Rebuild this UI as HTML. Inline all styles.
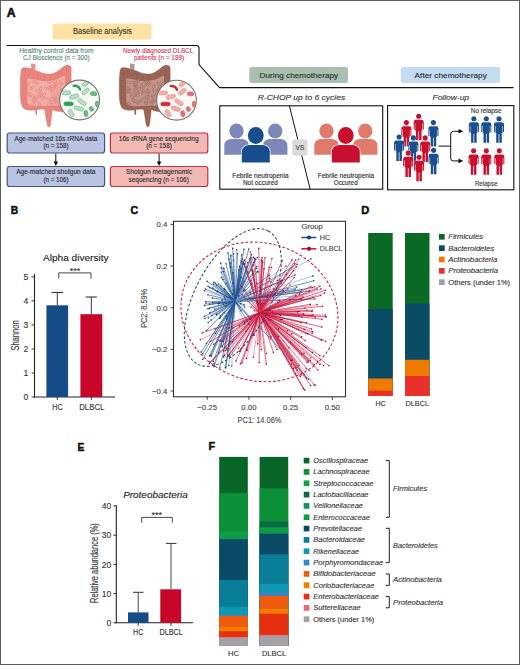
<!DOCTYPE html>
<html><head><meta charset="utf-8"><style>
html,body{margin:0;padding:0;background:#fff;}
body{width:520px;height:665px;overflow:hidden;}
svg{display:block;font-family:"Liberation Sans", sans-serif;}
</style></head><body>
<svg width="520" height="665" viewBox="0 0 520 665">
<rect x="0" y="0" width="520" height="665" fill="#fff"/>
<text x="6.80" y="16.50" font-size="12.2" fill="#111" textLength="8.80" lengthAdjust="spacingAndGlyphs" font-weight="bold" stroke="#111" stroke-width="0.55">A</text>
<rect x="52.50" y="23.50" width="99.00" height="16.00" fill="#fde2a4" rx="2" />
<text x="73.00" y="33.90" font-size="8.5" fill="#3b3322" textLength="58.80" lengthAdjust="spacingAndGlyphs" stroke="#3b3322" stroke-width="0.12">Baseline analysis</text>
<path d="M6.5,45.5 L196.5,45.5 Q199,45.5 199,48 L199,64.5 L219.5,87.6 L513.5,87.6" fill="none" stroke="#111" stroke-width="1.1" />
<rect x="249.30" y="67.00" width="98.70" height="16.00" fill="#a9bfb0" rx="2" />
<text x="259.60" y="78.30" font-size="7.8" fill="#2a2a2a" textLength="78.60" lengthAdjust="spacingAndGlyphs" stroke="#2a2a2a" stroke-width="0.12">During chemotherapy</text>
<rect x="400.80" y="67.00" width="99.20" height="16.00" fill="#c4dcf2" rx="2" />
<text x="414.60" y="78.30" font-size="7.8" fill="#2a2a2a" textLength="72.20" lengthAdjust="spacingAndGlyphs" stroke="#2a2a2a" stroke-width="0.12">After chemotherapy</text>
<text x="257.70" y="99.80" font-size="7.5" fill="#333" textLength="87.50" lengthAdjust="spacingAndGlyphs" font-style="italic" stroke="#333" stroke-width="0.12">R-CHOP up to 6 cycles</text>
<text x="432.50" y="99.90" font-size="7.5" fill="#333" textLength="36.50" lengthAdjust="spacingAndGlyphs" font-style="italic" stroke="#333" stroke-width="0.12">Follow-up</text>
<text x="19.20" y="52.60" font-size="6.5" fill="#538678" textLength="74.40" lengthAdjust="spacingAndGlyphs" stroke="#538678" stroke-width="0.12">Healthy control data from</text>
<text x="23.00" y="60.10" font-size="6.5" fill="#538678" textLength="66.60" lengthAdjust="spacingAndGlyphs" stroke="#538678" stroke-width="0.12">CJ Bioscience (n = 300)</text>
<text x="123.00" y="52.60" font-size="6.5" fill="#d23a58" textLength="70.20" lengthAdjust="spacingAndGlyphs" stroke="#d23a58" stroke-width="0.12">Newly diagnosed DLBCL</text>
<text x="134.00" y="60.10" font-size="6.5" fill="#d23a58" textLength="50.20" lengthAdjust="spacingAndGlyphs" stroke="#d23a58" stroke-width="0.12">patients (n = 189)</text>
<g transform="translate(0,0)"><path d="M20.8,74 C20.8,70 21.5,67.8 24,67.6 C27,67.4 29.5,68.5 31.6,69 L31.4,63.8 L35.2,64.2 L35,69.9 C39,71.5 44,74 50,74 C56,74 60.5,68.5 64,66.3 C67,64.4 70.5,64.6 71.2,68 L71.3,106 C70.5,111 66,112.5 60,111.8 C56,111.3 53,110 52.4,109.5 L50.6,124.5 C49.9,127.8 47.6,127.8 47.1,124.5 L44.6,109.5 C41,109 37,110 33,110.2 C28,110.8 23,109.5 22,106 C20.5,103 20.3,98 20.2,92 L20.3,80 C20.3,77 20.5,75.5 20.8,74 Z" fill="#e8837e" stroke="#d66a68" stroke-width="0.5" stroke-opacity="0.6"/><path d="M24.5,69 Q25.4,72.2 24.8,75.5 M28.5,69.5 Q29.2,73.2 28.2,77 M38,72.2 Q38.6,75.7 37.6,79.2 M44,74.6 Q44.7,77.5 43.8,80.5 M50.5,74.9 Q51.3,77.8 50.5,80.8 M56.5,74 Q57.4,76.8 56.8,79.5 M61.5,70.5 Q62.5,73.8 62,77.2 M66.5,66.8 Q67.0,71.2 66,75.5 M21,80.5 Q24.6,80.7 26.6,80.8 M21,86.5 Q24.6,86.7 26.6,86.8 M21,92.5 Q24.6,92.7 26.6,92.8 M21,98.5 Q24.6,98.7 26.6,98.8 M22,104 Q25.8,104.2 28,104.5 M65.8,80 Q69.2,80.1 71,80.2 M65.8,86 Q69.2,86.1 71,86.2 " fill="none" stroke="#d66a68" stroke-width="0.5" opacity="0.55"/><path d="M31.4,63.8 L35.2,64.2 L35,69.9 L31.6,69 Z" fill="#ec8e88"/><path d="M26.8,78 C31,77.8 36,79.8 42,80.5 C48,81 54,80 58,78.4 C61,77 63.5,75.8 65.3,75 L65.6,103 C62,106.5 56,105.8 51,106 C45,106.2 38,107 32.5,106.2 C28.5,105.6 26.8,103.5 26.8,100.5 Z" fill="#f3ada5"/><g fill="none" stroke="#e6918b" stroke-width="0.8"><ellipse cx="50.9" cy="98.9" rx="2.7" ry="1.2" transform="rotate(143 50.9 98.9)"/><ellipse cx="61.7" cy="82.2" rx="2.7" ry="1.2" transform="rotate(84 61.7 82.2)"/><ellipse cx="60.9" cy="84.2" rx="1.7" ry="1.1" transform="rotate(84 60.9 84.2)"/><ellipse cx="49.2" cy="81.8" rx="1.8" ry="1.3" transform="rotate(39 49.2 81.8)"/><ellipse cx="56.1" cy="85.3" rx="1.6" ry="1.2" transform="rotate(143 56.1 85.3)"/><ellipse cx="33.1" cy="81.5" rx="1.7" ry="0.9" transform="rotate(157 33.1 81.5)"/><ellipse cx="63.9" cy="102.0" rx="2.7" ry="1.1" transform="rotate(52 63.9 102.0)"/><ellipse cx="52.9" cy="86.3" rx="2.4" ry="1.4" transform="rotate(169 52.9 86.3)"/><ellipse cx="60.7" cy="88.5" rx="1.6" ry="0.9" transform="rotate(65 60.7 88.5)"/><ellipse cx="30.8" cy="88.6" rx="1.4" ry="1.2" transform="rotate(109 30.8 88.6)"/><ellipse cx="40.7" cy="88.8" rx="2.1" ry="1.0" transform="rotate(147 40.7 88.8)"/><ellipse cx="45.8" cy="98.1" rx="2.8" ry="0.8" transform="rotate(10 45.8 98.1)"/><ellipse cx="55.5" cy="101.4" rx="2.5" ry="1.0" transform="rotate(3 55.5 101.4)"/><ellipse cx="49.3" cy="81.7" rx="1.7" ry="1.4" transform="rotate(8 49.3 81.7)"/><ellipse cx="35.6" cy="99.3" rx="2.7" ry="1.0" transform="rotate(167 35.6 99.3)"/><ellipse cx="41.3" cy="93.8" rx="1.6" ry="1.2" transform="rotate(140 41.3 93.8)"/><ellipse cx="57.2" cy="101.7" rx="2.7" ry="0.9" transform="rotate(7 57.2 101.7)"/><ellipse cx="40.8" cy="95.9" rx="1.9" ry="1.4" transform="rotate(165 40.8 95.9)"/><ellipse cx="48.1" cy="88.8" rx="1.6" ry="0.8" transform="rotate(57 48.1 88.8)"/><ellipse cx="33.9" cy="97.7" rx="1.6" ry="0.8" transform="rotate(179 33.9 97.7)"/><ellipse cx="64.0" cy="94.0" rx="1.7" ry="1.2" transform="rotate(73 64.0 94.0)"/><ellipse cx="58.2" cy="92.2" rx="1.5" ry="1.3" transform="rotate(76 58.2 92.2)"/><ellipse cx="29.7" cy="93.1" rx="1.6" ry="1.2" transform="rotate(151 29.7 93.1)"/><ellipse cx="62.7" cy="96.3" rx="1.5" ry="1.1" transform="rotate(142 62.7 96.3)"/><ellipse cx="33.9" cy="101.4" rx="2.0" ry="1.4" transform="rotate(53 33.9 101.4)"/><ellipse cx="59.2" cy="104.4" rx="2.1" ry="1.2" transform="rotate(82 59.2 104.4)"/><ellipse cx="45.7" cy="88.3" rx="1.6" ry="1.0" transform="rotate(73 45.7 88.3)"/><ellipse cx="64.1" cy="104.1" rx="2.1" ry="1.0" transform="rotate(113 64.1 104.1)"/><ellipse cx="31.7" cy="87.9" rx="2.6" ry="1.0" transform="rotate(141 31.7 87.9)"/><ellipse cx="56.8" cy="99.7" rx="2.3" ry="1.3" transform="rotate(125 56.8 99.7)"/><ellipse cx="41.6" cy="98.1" rx="2.1" ry="1.3" transform="rotate(51 41.6 98.1)"/><ellipse cx="53.4" cy="88.4" rx="2.3" ry="1.1" transform="rotate(170 53.4 88.4)"/><ellipse cx="28.9" cy="94.4" rx="2.3" ry="1.1" transform="rotate(45 28.9 94.4)"/><ellipse cx="57.9" cy="96.7" rx="1.9" ry="1.2" transform="rotate(144 57.9 96.7)"/><ellipse cx="55.1" cy="101.0" rx="2.6" ry="1.3" transform="rotate(63 55.1 101.0)"/><ellipse cx="53.3" cy="104.4" rx="2.1" ry="1.1" transform="rotate(172 53.3 104.4)"/><ellipse cx="34.5" cy="101.2" rx="2.1" ry="1.2" transform="rotate(169 34.5 101.2)"/><ellipse cx="54.4" cy="98.7" rx="2.5" ry="1.1" transform="rotate(31 54.4 98.7)"/><ellipse cx="52.5" cy="91.4" rx="2.5" ry="1.2" transform="rotate(112 52.5 91.4)"/><ellipse cx="54.4" cy="82.1" rx="2.0" ry="1.2" transform="rotate(29 54.4 82.1)"/><ellipse cx="36.4" cy="97.6" rx="1.5" ry="1.1" transform="rotate(114 36.4 97.6)"/><ellipse cx="36.6" cy="82.8" rx="1.8" ry="0.9" transform="rotate(24 36.6 82.8)"/><ellipse cx="35.5" cy="82.3" rx="1.9" ry="1.2" transform="rotate(84 35.5 82.3)"/><ellipse cx="49.7" cy="87.1" rx="1.4" ry="1.0" transform="rotate(163 49.7 87.1)"/><ellipse cx="38.5" cy="91.1" rx="2.6" ry="1.0" transform="rotate(21 38.5 91.1)"/><ellipse cx="29.8" cy="95.9" rx="2.2" ry="1.0" transform="rotate(17 29.8 95.9)"/><ellipse cx="49.4" cy="104.0" rx="2.0" ry="1.3" transform="rotate(147 49.4 104.0)"/><ellipse cx="51.6" cy="90.2" rx="2.2" ry="1.1" transform="rotate(26 51.6 90.2)"/><ellipse cx="63.0" cy="104.2" rx="1.9" ry="1.3" transform="rotate(110 63.0 104.2)"/><ellipse cx="28.5" cy="84.0" rx="2.3" ry="0.9" transform="rotate(102 28.5 84.0)"/><ellipse cx="51.2" cy="102.4" rx="2.0" ry="0.9" transform="rotate(68 51.2 102.4)"/><ellipse cx="39.0" cy="104.4" rx="2.7" ry="1.3" transform="rotate(68 39.0 104.4)"/><ellipse cx="49.9" cy="87.6" rx="2.1" ry="1.0" transform="rotate(177 49.9 87.6)"/><ellipse cx="40.0" cy="104.6" rx="1.8" ry="1.1" transform="rotate(89 40.0 104.6)"/><ellipse cx="32.9" cy="96.1" rx="1.8" ry="1.3" transform="rotate(80 32.9 96.1)"/><ellipse cx="58.3" cy="81.8" rx="1.8" ry="1.4" transform="rotate(96 58.3 81.8)"/><ellipse cx="56.6" cy="87.3" rx="1.6" ry="1.4" transform="rotate(48 56.6 87.3)"/><ellipse cx="39.1" cy="95.8" rx="2.3" ry="1.2" transform="rotate(85 39.1 95.8)"/><ellipse cx="55.3" cy="84.3" rx="1.8" ry="1.1" transform="rotate(137 55.3 84.3)"/><ellipse cx="40.6" cy="88.5" rx="2.1" ry="1.0" transform="rotate(95 40.6 88.5)"/><ellipse cx="55.3" cy="95.4" rx="1.8" ry="1.1" transform="rotate(7 55.3 95.4)"/><ellipse cx="61.5" cy="102.4" rx="1.4" ry="1.3" transform="rotate(98 61.5 102.4)"/><ellipse cx="43.9" cy="95.0" rx="2.3" ry="1.1" transform="rotate(127 43.9 95.0)"/><ellipse cx="61.3" cy="90.6" rx="2.6" ry="0.9" transform="rotate(71 61.3 90.6)"/></g><path d="M26.8,78 C31,77.8 36,79.8 42,80.5 C48,81 54,80 58,78.4 C61,77 63.5,75.8 65.3,75 L65.6,103 C62,106.5 56,105.8 51,106 C45,106.2 38,107 32.5,106.2 C28.5,105.6 26.8,103.5 26.8,100.5 Z" fill="none" stroke="#d66a68" stroke-width="0.6" opacity="0.6"/><path d="M35.3,109.5 C35,112 35.4,114.5 36.4,115.3 C37.3,115 37.2,112 37,109.5 Z" fill="#e8837e"/></g>
<circle cx="79.6" cy="100.0" r="19.9" fill="#f8fbf6" stroke="#77736e" stroke-width="1.1"/>
<clipPath id="clip0"><circle cx="79.6" cy="100.0" r="19.299999999999997"/></clipPath>
<g clip-path="url(#clip0)"><rect x="-3.00" y="-1.85" width="6" height="3.7" rx="1.85" fill="#bcdfc5" stroke="#76b88b" stroke-width="0.7" transform="translate(85.10,84.00) rotate(-30)"/><rect x="-4.25" y="-1.85" width="8.5" height="3.7" rx="1.85" fill="#bcdfc5" stroke="#76b88b" stroke-width="0.7" transform="translate(85.50,91.50) rotate(-40)"/><rect x="-4.65" y="-1.85" width="9.3" height="3.7" rx="1.85" fill="#bcdfc5" stroke="#76b88b" stroke-width="0.7" transform="translate(66.10,92.80) rotate(0)"/><rect x="-4.65" y="-1.85" width="9.3" height="3.7" rx="1.85" fill="#bcdfc5" stroke="#76b88b" stroke-width="0.7" transform="translate(74.10,96.60) rotate(-15)"/><rect x="-3.25" y="-1.85" width="6.5" height="3.7" rx="1.85" fill="#6cbc86" stroke="#4aa86a" stroke-width="0.7" transform="translate(93.60,93.70) rotate(5)"/><rect x="-4.65" y="-1.85" width="9.3" height="3.7" rx="1.85" fill="#2c9e58" stroke="#2c9e58" stroke-width="0.7" transform="translate(68.60,103.80) rotate(0)"/><rect x="-4.65" y="-1.85" width="9.3" height="3.7" rx="1.85" fill="#bcdfc5" stroke="#76b88b" stroke-width="0.7" transform="translate(82.10,102.10) rotate(35)"/><rect x="-4.65" y="-1.85" width="9.3" height="3.7" rx="1.85" fill="#bcdfc5" stroke="#76b88b" stroke-width="0.7" transform="translate(78.80,108.50) rotate(15)"/><rect x="-4.00" y="-1.85" width="8" height="3.7" rx="1.85" fill="#bcdfc5" stroke="#76b88b" stroke-width="0.7" transform="translate(71.10,113.10) rotate(60)"/><rect x="-3.00" y="-1.85" width="6" height="3.7" rx="1.85" fill="#6cbc86" stroke="#4aa86a" stroke-width="0.7" transform="translate(85.90,113.50) rotate(80)"/><rect x="-2.40" y="-1.85" width="4.8" height="3.7" rx="1.85" fill="#6cbc86" stroke="#4aa86a" stroke-width="0.7" transform="translate(91.40,108.90) rotate(60)"/><rect x="-3.00" y="-1.85" width="6" height="3.7" rx="1.85" fill="#6cbc86" stroke="#4aa86a" stroke-width="0.7" transform="translate(97.40,104.20) rotate(80)"/><path d="M73.80,85.80 Q78.60,85.40 80.20,89.60" fill="none" stroke="#2c9e58" stroke-width="2.4" stroke-linecap="round"/></g>
<g transform="translate(99,0)"><path d="M20.8,74 C20.8,70 21.5,67.8 24,67.6 C27,67.4 29.5,68.5 31.6,69 L31.4,63.8 L35.2,64.2 L35,69.9 C39,71.5 44,74 50,74 C56,74 60.5,68.5 64,66.3 C67,64.4 70.5,64.6 71.2,68 L71.3,106 C70.5,111 66,112.5 60,111.8 C56,111.3 53,110 52.4,109.5 L50.6,124.5 C49.9,127.8 47.6,127.8 47.1,124.5 L44.6,109.5 C41,109 37,110 33,110.2 C28,110.8 23,109.5 22,106 C20.5,103 20.3,98 20.2,92 L20.3,80 C20.3,77 20.5,75.5 20.8,74 Z" fill="#9c6455" stroke="#84503f" stroke-width="0.5" stroke-opacity="0.6"/><path d="M24.5,69 Q25.4,72.2 24.8,75.5 M28.5,69.5 Q29.2,73.2 28.2,77 M38,72.2 Q38.6,75.7 37.6,79.2 M44,74.6 Q44.7,77.5 43.8,80.5 M50.5,74.9 Q51.3,77.8 50.5,80.8 M56.5,74 Q57.4,76.8 56.8,79.5 M61.5,70.5 Q62.5,73.8 62,77.2 M66.5,66.8 Q67.0,71.2 66,75.5 M21,80.5 Q24.6,80.7 26.6,80.8 M21,86.5 Q24.6,86.7 26.6,86.8 M21,92.5 Q24.6,92.7 26.6,92.8 M21,98.5 Q24.6,98.7 26.6,98.8 M22,104 Q25.8,104.2 28,104.5 M65.8,80 Q69.2,80.1 71,80.2 M65.8,86 Q69.2,86.1 71,86.2 " fill="none" stroke="#84503f" stroke-width="0.5" opacity="0.55"/><path d="M31.4,63.8 L35.2,64.2 L35,69.9 L31.6,69 Z" fill="#a89a94"/><path d="M26.8,78 C31,77.8 36,79.8 42,80.5 C48,81 54,80 58,78.4 C61,77 63.5,75.8 65.3,75 L65.6,103 C62,106.5 56,105.8 51,106 C45,106.2 38,107 32.5,106.2 C28.5,105.6 26.8,103.5 26.8,100.5 Z" fill="#c4938a"/><g fill="none" stroke="#a97a70" stroke-width="0.8"><ellipse cx="63.1" cy="102.0" rx="1.7" ry="1.0" transform="rotate(132 63.1 102.0)"/><ellipse cx="54.2" cy="100.5" rx="1.6" ry="1.3" transform="rotate(3 54.2 100.5)"/><ellipse cx="32.8" cy="96.9" rx="2.3" ry="1.3" transform="rotate(59 32.8 96.9)"/><ellipse cx="49.4" cy="90.7" rx="2.3" ry="1.2" transform="rotate(58 49.4 90.7)"/><ellipse cx="43.2" cy="92.5" rx="1.8" ry="0.9" transform="rotate(97 43.2 92.5)"/><ellipse cx="49.0" cy="83.9" rx="2.5" ry="1.3" transform="rotate(108 49.0 83.9)"/><ellipse cx="37.6" cy="91.2" rx="1.9" ry="1.4" transform="rotate(166 37.6 91.2)"/><ellipse cx="35.7" cy="101.3" rx="2.3" ry="1.3" transform="rotate(7 35.7 101.3)"/><ellipse cx="48.2" cy="96.4" rx="2.8" ry="0.9" transform="rotate(164 48.2 96.4)"/><ellipse cx="47.3" cy="82.4" rx="1.6" ry="0.9" transform="rotate(68 47.3 82.4)"/><ellipse cx="51.0" cy="83.5" rx="1.4" ry="1.3" transform="rotate(28 51.0 83.5)"/><ellipse cx="37.3" cy="83.2" rx="2.4" ry="1.2" transform="rotate(112 37.3 83.2)"/><ellipse cx="48.2" cy="94.1" rx="1.8" ry="1.3" transform="rotate(130 48.2 94.1)"/><ellipse cx="53.5" cy="101.7" rx="2.6" ry="1.1" transform="rotate(160 53.5 101.7)"/><ellipse cx="47.3" cy="98.7" rx="1.4" ry="1.4" transform="rotate(104 47.3 98.7)"/><ellipse cx="35.7" cy="92.9" rx="1.5" ry="1.1" transform="rotate(81 35.7 92.9)"/><ellipse cx="49.8" cy="100.6" rx="1.8" ry="1.1" transform="rotate(110 49.8 100.6)"/><ellipse cx="63.0" cy="96.5" rx="1.4" ry="1.2" transform="rotate(152 63.0 96.5)"/><ellipse cx="36.1" cy="85.3" rx="1.6" ry="0.9" transform="rotate(60 36.1 85.3)"/><ellipse cx="36.1" cy="86.9" rx="2.5" ry="0.8" transform="rotate(45 36.1 86.9)"/><ellipse cx="35.7" cy="82.8" rx="1.7" ry="1.1" transform="rotate(91 35.7 82.8)"/><ellipse cx="37.1" cy="86.1" rx="1.5" ry="1.3" transform="rotate(88 37.1 86.1)"/><ellipse cx="48.8" cy="90.8" rx="2.7" ry="1.1" transform="rotate(99 48.8 90.8)"/><ellipse cx="42.7" cy="86.6" rx="2.5" ry="1.2" transform="rotate(68 42.7 86.6)"/><ellipse cx="38.4" cy="102.6" rx="1.9" ry="1.3" transform="rotate(24 38.4 102.6)"/><ellipse cx="61.4" cy="92.3" rx="2.2" ry="1.1" transform="rotate(2 61.4 92.3)"/><ellipse cx="29.6" cy="89.7" rx="1.5" ry="0.9" transform="rotate(159 29.6 89.7)"/><ellipse cx="34.5" cy="100.2" rx="2.4" ry="1.2" transform="rotate(55 34.5 100.2)"/><ellipse cx="28.9" cy="91.8" rx="2.5" ry="1.1" transform="rotate(21 28.9 91.8)"/><ellipse cx="41.8" cy="100.6" rx="1.5" ry="0.9" transform="rotate(148 41.8 100.6)"/><ellipse cx="40.1" cy="88.9" rx="2.0" ry="1.4" transform="rotate(79 40.1 88.9)"/><ellipse cx="52.7" cy="104.1" rx="1.7" ry="1.1" transform="rotate(111 52.7 104.1)"/><ellipse cx="34.3" cy="95.2" rx="2.7" ry="1.0" transform="rotate(26 34.3 95.2)"/><ellipse cx="60.7" cy="86.7" rx="1.7" ry="1.3" transform="rotate(37 60.7 86.7)"/><ellipse cx="58.3" cy="99.0" rx="1.6" ry="0.9" transform="rotate(103 58.3 99.0)"/><ellipse cx="29.7" cy="103.4" rx="2.4" ry="0.8" transform="rotate(23 29.7 103.4)"/><ellipse cx="38.7" cy="95.7" rx="1.5" ry="1.3" transform="rotate(33 38.7 95.7)"/><ellipse cx="38.8" cy="81.7" rx="2.8" ry="1.1" transform="rotate(127 38.8 81.7)"/><ellipse cx="29.8" cy="91.3" rx="1.7" ry="1.1" transform="rotate(110 29.8 91.3)"/><ellipse cx="55.2" cy="97.0" rx="2.7" ry="1.1" transform="rotate(150 55.2 97.0)"/><ellipse cx="63.8" cy="84.3" rx="2.3" ry="1.4" transform="rotate(93 63.8 84.3)"/><ellipse cx="45.4" cy="91.8" rx="2.1" ry="0.8" transform="rotate(160 45.4 91.8)"/><ellipse cx="44.8" cy="87.8" rx="2.5" ry="0.8" transform="rotate(118 44.8 87.8)"/><ellipse cx="39.9" cy="102.6" rx="2.5" ry="1.0" transform="rotate(146 39.9 102.6)"/><ellipse cx="62.9" cy="101.4" rx="2.2" ry="1.2" transform="rotate(147 62.9 101.4)"/><ellipse cx="33.2" cy="82.3" rx="1.5" ry="1.1" transform="rotate(3 33.2 82.3)"/><ellipse cx="62.5" cy="95.0" rx="2.5" ry="1.4" transform="rotate(142 62.5 95.0)"/><ellipse cx="38.5" cy="93.2" rx="1.9" ry="1.2" transform="rotate(166 38.5 93.2)"/><ellipse cx="43.4" cy="85.1" rx="1.9" ry="0.8" transform="rotate(37 43.4 85.1)"/><ellipse cx="60.2" cy="89.8" rx="2.5" ry="0.8" transform="rotate(43 60.2 89.8)"/><ellipse cx="55.9" cy="92.1" rx="2.0" ry="1.4" transform="rotate(16 55.9 92.1)"/><ellipse cx="29.9" cy="88.2" rx="2.2" ry="0.9" transform="rotate(32 29.9 88.2)"/><ellipse cx="59.0" cy="90.1" rx="1.6" ry="0.9" transform="rotate(171 59.0 90.1)"/><ellipse cx="29.5" cy="82.5" rx="2.2" ry="1.1" transform="rotate(33 29.5 82.5)"/><ellipse cx="54.6" cy="87.0" rx="2.8" ry="1.0" transform="rotate(108 54.6 87.0)"/><ellipse cx="37.0" cy="85.9" rx="2.3" ry="1.1" transform="rotate(174 37.0 85.9)"/><ellipse cx="46.3" cy="83.4" rx="2.4" ry="1.0" transform="rotate(41 46.3 83.4)"/><ellipse cx="47.0" cy="102.7" rx="2.1" ry="1.3" transform="rotate(33 47.0 102.7)"/><ellipse cx="55.3" cy="100.9" rx="2.2" ry="0.9" transform="rotate(164 55.3 100.9)"/><ellipse cx="46.8" cy="103.3" rx="1.8" ry="0.9" transform="rotate(36 46.8 103.3)"/><ellipse cx="60.1" cy="83.8" rx="2.3" ry="1.2" transform="rotate(27 60.1 83.8)"/><ellipse cx="43.7" cy="99.1" rx="1.9" ry="0.8" transform="rotate(127 43.7 99.1)"/><ellipse cx="53.4" cy="96.1" rx="2.4" ry="0.8" transform="rotate(173 53.4 96.1)"/><ellipse cx="35.5" cy="88.7" rx="1.8" ry="0.9" transform="rotate(131 35.5 88.7)"/></g><path d="M26.8,78 C31,77.8 36,79.8 42,80.5 C48,81 54,80 58,78.4 C61,77 63.5,75.8 65.3,75 L65.6,103 C62,106.5 56,105.8 51,106 C45,106.2 38,107 32.5,106.2 C28.5,105.6 26.8,103.5 26.8,100.5 Z" fill="none" stroke="#84503f" stroke-width="0.6" opacity="0.6"/><path d="M35.3,109.5 C35,112 35.4,114.5 36.4,115.3 C37.3,115 37.2,112 37,109.5 Z" fill="#9c6455"/></g>
<circle cx="176.5" cy="100.2" r="19.9" fill="#fdf9f4" stroke="#77736e" stroke-width="1.1"/>
<clipPath id="clip99"><circle cx="176.5" cy="100.2" r="19.299999999999997"/></clipPath>
<g clip-path="url(#clip99)"><rect x="-3.00" y="-1.85" width="6" height="3.7" rx="1.85" fill="#f4b0ac" stroke="#e68888" stroke-width="0.7" transform="translate(182.00,84.20) rotate(-30)"/><rect x="-4.25" y="-1.85" width="8.5" height="3.7" rx="1.85" fill="#f4b0ac" stroke="#e68888" stroke-width="0.7" transform="translate(182.40,91.70) rotate(-40)"/><rect x="-4.65" y="-1.85" width="9.3" height="3.7" rx="1.85" fill="#f4b0ac" stroke="#e68888" stroke-width="0.7" transform="translate(163.00,93.00) rotate(0)"/><rect x="-4.65" y="-1.85" width="9.3" height="3.7" rx="1.85" fill="#f4b0ac" stroke="#e68888" stroke-width="0.7" transform="translate(171.00,96.80) rotate(-15)"/><rect x="-3.25" y="-1.85" width="6.5" height="3.7" rx="1.85" fill="#e67474" stroke="#d85a5e" stroke-width="0.7" transform="translate(190.50,93.90) rotate(5)"/><rect x="-4.65" y="-1.85" width="9.3" height="3.7" rx="1.85" fill="#cc2a3c" stroke="#cc2a3c" stroke-width="0.7" transform="translate(165.50,104.00) rotate(0)"/><rect x="-4.65" y="-1.85" width="9.3" height="3.7" rx="1.85" fill="#f4b0ac" stroke="#e68888" stroke-width="0.7" transform="translate(179.00,102.30) rotate(35)"/><rect x="-4.65" y="-1.85" width="9.3" height="3.7" rx="1.85" fill="#f4b0ac" stroke="#e68888" stroke-width="0.7" transform="translate(175.70,108.70) rotate(15)"/><rect x="-4.00" y="-1.85" width="8" height="3.7" rx="1.85" fill="#f4b0ac" stroke="#e68888" stroke-width="0.7" transform="translate(168.00,113.30) rotate(60)"/><rect x="-3.00" y="-1.85" width="6" height="3.7" rx="1.85" fill="#e67474" stroke="#d85a5e" stroke-width="0.7" transform="translate(182.80,113.70) rotate(80)"/><rect x="-2.40" y="-1.85" width="4.8" height="3.7" rx="1.85" fill="#e67474" stroke="#d85a5e" stroke-width="0.7" transform="translate(188.30,109.10) rotate(60)"/><rect x="-3.00" y="-1.85" width="6" height="3.7" rx="1.85" fill="#e67474" stroke="#d85a5e" stroke-width="0.7" transform="translate(194.30,104.40) rotate(80)"/><path d="M170.70,86.00 Q175.50,85.60 177.10,89.80" fill="none" stroke="#cc2a3c" stroke-width="2.4" stroke-linecap="round"/></g>
<rect x="7.20" y="133.00" width="97.40" height="20.00" fill="#b9c4e3" stroke="#3f5583" stroke-width="1.2" rx="2.5" />
<text x="14.40" y="140.70" font-size="6.6" fill="#2a2a2a" textLength="83.00" lengthAdjust="spacingAndGlyphs" stroke="#2a2a2a" stroke-width="0.12">Age-matched 16s rRNA data</text>
<text x="43.40" y="148.40" font-size="6.6" fill="#2a2a2a" textLength="25.20" lengthAdjust="spacingAndGlyphs" stroke="#2a2a2a" stroke-width="0.12">(n = 158)</text>
<rect x="7.20" y="166.50" width="97.40" height="20.00" fill="#b9c4e3" stroke="#3f5583" stroke-width="1.2" rx="2.5" />
<text x="16.20" y="174.30" font-size="6.6" fill="#2a2a2a" textLength="79.20" lengthAdjust="spacingAndGlyphs" stroke="#2a2a2a" stroke-width="0.12">Age-matched shotgun data</text>
<text x="43.40" y="182.20" font-size="6.6" fill="#2a2a2a" textLength="25.20" lengthAdjust="spacingAndGlyphs" stroke="#2a2a2a" stroke-width="0.12">(n = 106)</text>
<rect x="110.40" y="133.00" width="97.40" height="20.00" fill="#f2b9b4" stroke="#bf2f48" stroke-width="1.2" rx="2.5" />
<text x="118.80" y="140.70" font-size="6.6" fill="#2a2a2a" textLength="79.80" lengthAdjust="spacingAndGlyphs" stroke="#2a2a2a" stroke-width="0.12">16s rRNA gene sequencing</text>
<text x="146.20" y="148.40" font-size="6.6" fill="#2a2a2a" textLength="25.60" lengthAdjust="spacingAndGlyphs" stroke="#2a2a2a" stroke-width="0.12">(n = 158)</text>
<rect x="110.40" y="166.50" width="97.40" height="20.00" fill="#f2b9b4" stroke="#bf2f48" stroke-width="1.2" rx="2.5" />
<text x="126.00" y="174.20" font-size="6.6" fill="#2a2a2a" textLength="66.00" lengthAdjust="spacingAndGlyphs" stroke="#2a2a2a" stroke-width="0.12">Shotgun metagenomic</text>
<text x="128.60" y="182.10" font-size="6.6" fill="#2a2a2a" textLength="60.20" lengthAdjust="spacingAndGlyphs" stroke="#2a2a2a" stroke-width="0.12">sequencing (n = 106)</text>
<line x1="55.80" y1="153.60" x2="55.80" y2="162.50" stroke="#111" stroke-width="1" />
<path d="M53.5,161.6 L58.099999999999994,161.6 L55.8,166 Z" fill="#111" />
<line x1="159.10" y1="153.60" x2="159.10" y2="162.50" stroke="#111" stroke-width="1" />
<path d="M156.79999999999998,161.6 L161.4,161.6 L159.1,166 Z" fill="#111" />
<rect x="219.80" y="105.80" width="162.90" height="83.40" fill="none" stroke="#111" stroke-width="1.1" />
<line x1="289.40" y1="105.80" x2="310.20" y2="189.20" stroke="#111" stroke-width="1" />
<rect x="292.30" y="139.20" width="15.20" height="16.40" fill="#dadada" rx="3" />
<text x="299.90" y="150.00" font-size="6.6" fill="#444" text-anchor="middle" stroke="#444" stroke-width="0.12">VS</text>
<path d="M224.30,154.8 L224.30,145.5 C224.30,140.5 228.30,139.0 232.30,139.0 L240.70,139.0 C244.70,139.0 248.70,140.5 248.70,145.5 L248.70,154.8 Z" fill="#7d88b8"/>
<ellipse cx="236.50" cy="131.0" rx="7.2" ry="7.5" fill="#7d88b8" stroke="#fff" stroke-width="1.1" paint-order="stroke"/>
<path d="M263.00,154.8 L263.00,145.5 C263.00,140.5 267.00,139.0 271.00,139.0 L279.40,139.0 C283.40,139.0 287.40,140.5 287.40,145.5 L287.40,154.8 Z" fill="#7d88b8"/>
<ellipse cx="275.20" cy="131.0" rx="7.2" ry="7.5" fill="#7d88b8" stroke="#fff" stroke-width="1.1" paint-order="stroke"/>
<path d="M241.80,162.4 L241.80,152 C241.80,146.5 246.30,144.9 250.80,144.9 L260.80,144.9 C265.30,144.9 269.80,146.5 269.80,152 L269.80,162.4 Z" fill="#194e8e" stroke="#fff" stroke-width="1.3" paint-order="stroke"/>
<ellipse cx="255.80" cy="135.5" rx="7.9" ry="8.4" fill="#194e8e" stroke="#fff" stroke-width="1.3" paint-order="stroke"/>
<path d="M314.30,154.8 L314.30,145.5 C314.30,140.5 318.30,139.0 322.30,139.0 L330.70,139.0 C334.70,139.0 338.70,140.5 338.70,145.5 L338.70,154.8 Z" fill="#e07a6b"/>
<ellipse cx="326.50" cy="131.0" rx="7.2" ry="7.5" fill="#e07a6b" stroke="#fff" stroke-width="1.1" paint-order="stroke"/>
<path d="M353.00,154.8 L353.00,145.5 C353.00,140.5 357.00,139.0 361.00,139.0 L369.40,139.0 C373.40,139.0 377.40,140.5 377.40,145.5 L377.40,154.8 Z" fill="#e07a6b"/>
<ellipse cx="365.20" cy="131.0" rx="7.2" ry="7.5" fill="#e07a6b" stroke="#fff" stroke-width="1.1" paint-order="stroke"/>
<path d="M331.80,162.4 L331.80,152 C331.80,146.5 336.30,144.9 340.80,144.9 L350.80,144.9 C355.30,144.9 359.80,146.5 359.80,152 L359.80,162.4 Z" fill="#c8102e" stroke="#fff" stroke-width="1.3" paint-order="stroke"/>
<ellipse cx="345.80" cy="135.5" rx="7.9" ry="8.4" fill="#c8102e" stroke="#fff" stroke-width="1.3" paint-order="stroke"/>
<text x="232.20" y="177.80" font-size="6.6" fill="#2a2a2a" textLength="56.40" lengthAdjust="spacingAndGlyphs" stroke="#2a2a2a" stroke-width="0.12">Febrile neutropenia</text>
<text x="242.90" y="185.20" font-size="6.6" fill="#2a2a2a" textLength="35.00" lengthAdjust="spacingAndGlyphs" stroke="#2a2a2a" stroke-width="0.12">Not occured</text>
<text x="317.70" y="177.80" font-size="6.6" fill="#2a2a2a" textLength="56.40" lengthAdjust="spacingAndGlyphs" stroke="#2a2a2a" stroke-width="0.12">Febrile neutropenia</text>
<text x="333.70" y="185.20" font-size="6.6" fill="#2a2a2a" textLength="24.00" lengthAdjust="spacingAndGlyphs" stroke="#2a2a2a" stroke-width="0.12">Occured</text>
<rect x="387.60" y="105.60" width="126.20" height="84.20" fill="none" stroke="#111" stroke-width="1.1" />
<text x="470.80" y="113.20" font-size="6.6" fill="#333" textLength="30.70" lengthAdjust="spacingAndGlyphs" stroke="#333" stroke-width="0.12">No relapse</text>
<text x="474.90" y="185.50" font-size="6.6" fill="#333" textLength="22.70" lengthAdjust="spacingAndGlyphs" stroke="#333" stroke-width="0.12">Relapse</text>
<g transform="translate(418.70,116.20) scale(1.0)"><path d="M-5.05,12.8 L-5.05,6 Q-5.05,3.6 -2.8,3.6 L2.8,3.6 Q5.05,3.6 5.05,6 L5.05,12.8 Q5.05,13.5 4.5,13.5 Q4.0,13.5 4.0,12.8 L4.0,7.2 L3.5,7.2 L3.5,14.2 L2.8,14.2 L2.8,24 L0.35,24 L0.35,15.2 L-0.35,15.2 L-0.35,24 L-2.8,24 L-2.8,14.2 L-3.5,14.2 L-3.5,7.2 L-4.0,7.2 L-4.0,12.8 Q-4.0,13.5 -4.5,13.5 Q-5.05,13.5 -5.05,12.8 Z" fill="#c8102e" stroke="#fff" stroke-width="0.7" paint-order="stroke" stroke-linejoin="round"/><circle cx="0" cy="0" r="2.55" fill="#c8102e" stroke="#fff" stroke-width="0.7" paint-order="stroke"/></g>
<g transform="translate(406.40,122.60) scale(1.0)"><path d="M-5.05,12.8 L-5.05,6 Q-5.05,3.6 -2.8,3.6 L2.8,3.6 Q5.05,3.6 5.05,6 L5.05,12.8 Q5.05,13.5 4.5,13.5 Q4.0,13.5 4.0,12.8 L4.0,7.2 L3.5,7.2 L3.5,14.2 L2.8,14.2 L2.8,24 L0.35,24 L0.35,15.2 L-0.35,15.2 L-0.35,24 L-2.8,24 L-2.8,14.2 L-3.5,14.2 L-3.5,7.2 L-4.0,7.2 L-4.0,12.8 Q-4.0,13.5 -4.5,13.5 Q-5.05,13.5 -5.05,12.8 Z" fill="#c8102e" stroke="#fff" stroke-width="0.7" paint-order="stroke" stroke-linejoin="round"/><circle cx="0" cy="0" r="2.55" fill="#c8102e" stroke="#fff" stroke-width="0.7" paint-order="stroke"/></g>
<g transform="translate(433.40,122.60) scale(1.0)"><path d="M-5.05,12.8 L-5.05,6 Q-5.05,3.6 -2.8,3.6 L2.8,3.6 Q5.05,3.6 5.05,6 L5.05,12.8 Q5.05,13.5 4.5,13.5 Q4.0,13.5 4.0,12.8 L4.0,7.2 L3.5,7.2 L3.5,14.2 L2.8,14.2 L2.8,24 L0.35,24 L0.35,15.2 L-0.35,15.2 L-0.35,24 L-2.8,24 L-2.8,14.2 L-3.5,14.2 L-3.5,7.2 L-4.0,7.2 L-4.0,12.8 Q-4.0,13.5 -4.5,13.5 Q-5.05,13.5 -5.05,12.8 Z" fill="#1a4f8f" stroke="#fff" stroke-width="0.7" paint-order="stroke" stroke-linejoin="round"/><circle cx="0" cy="0" r="2.55" fill="#1a4f8f" stroke="#fff" stroke-width="0.7" paint-order="stroke"/></g>
<g transform="translate(399.10,137.00) scale(1.0)"><path d="M-5.05,12.8 L-5.05,6 Q-5.05,3.6 -2.8,3.6 L2.8,3.6 Q5.05,3.6 5.05,6 L5.05,12.8 Q5.05,13.5 4.5,13.5 Q4.0,13.5 4.0,12.8 L4.0,7.2 L3.5,7.2 L3.5,14.2 L2.8,14.2 L2.8,24 L0.35,24 L0.35,15.2 L-0.35,15.2 L-0.35,24 L-2.8,24 L-2.8,14.2 L-3.5,14.2 L-3.5,7.2 L-4.0,7.2 L-4.0,12.8 Q-4.0,13.5 -4.5,13.5 Q-5.05,13.5 -5.05,12.8 Z" fill="#1a4f8f" stroke="#fff" stroke-width="0.7" paint-order="stroke" stroke-linejoin="round"/><circle cx="0" cy="0" r="2.55" fill="#1a4f8f" stroke="#fff" stroke-width="0.7" paint-order="stroke"/></g>
<g transform="translate(413.40,137.90) scale(1.0)"><path d="M-5.05,12.8 L-5.05,6 Q-5.05,3.6 -2.8,3.6 L2.8,3.6 Q5.05,3.6 5.05,6 L5.05,12.8 Q5.05,13.5 4.5,13.5 Q4.0,13.5 4.0,12.8 L4.0,7.2 L3.5,7.2 L3.5,14.2 L2.8,14.2 L2.8,24 L0.35,24 L0.35,15.2 L-0.35,15.2 L-0.35,24 L-2.8,24 L-2.8,14.2 L-3.5,14.2 L-3.5,7.2 L-4.0,7.2 L-4.0,12.8 Q-4.0,13.5 -4.5,13.5 Q-5.05,13.5 -5.05,12.8 Z" fill="#1a4f8f" stroke="#fff" stroke-width="0.7" paint-order="stroke" stroke-linejoin="round"/><circle cx="0" cy="0" r="2.55" fill="#1a4f8f" stroke="#fff" stroke-width="0.7" paint-order="stroke"/></g>
<g transform="translate(425.20,137.90) scale(1.0)"><path d="M-5.05,12.8 L-5.05,6 Q-5.05,3.6 -2.8,3.6 L2.8,3.6 Q5.05,3.6 5.05,6 L5.05,12.8 Q5.05,13.5 4.5,13.5 Q4.0,13.5 4.0,12.8 L4.0,7.2 L3.5,7.2 L3.5,14.2 L2.8,14.2 L2.8,24 L0.35,24 L0.35,15.2 L-0.35,15.2 L-0.35,24 L-2.8,24 L-2.8,14.2 L-3.5,14.2 L-3.5,7.2 L-4.0,7.2 L-4.0,12.8 Q-4.0,13.5 -4.5,13.5 Q-5.05,13.5 -5.05,12.8 Z" fill="#c8102e" stroke="#fff" stroke-width="0.7" paint-order="stroke" stroke-linejoin="round"/><circle cx="0" cy="0" r="2.55" fill="#c8102e" stroke="#fff" stroke-width="0.7" paint-order="stroke"/></g>
<g transform="translate(433.60,150.20) scale(1.0)"><path d="M-5.05,12.8 L-5.05,6 Q-5.05,3.6 -2.8,3.6 L2.8,3.6 Q5.05,3.6 5.05,6 L5.05,12.8 Q5.05,13.5 4.5,13.5 Q4.0,13.5 4.0,12.8 L4.0,7.2 L3.5,7.2 L3.5,14.2 L2.8,14.2 L2.8,24 L0.35,24 L0.35,15.2 L-0.35,15.2 L-0.35,24 L-2.8,24 L-2.8,14.2 L-3.5,14.2 L-3.5,7.2 L-4.0,7.2 L-4.0,12.8 Q-4.0,13.5 -4.5,13.5 Q-5.05,13.5 -5.05,12.8 Z" fill="#1a4f8f" stroke="#fff" stroke-width="0.7" paint-order="stroke" stroke-linejoin="round"/><circle cx="0" cy="0" r="2.55" fill="#1a4f8f" stroke="#fff" stroke-width="0.7" paint-order="stroke"/></g>
<g transform="translate(408.20,153.10) scale(1.0)"><path d="M-5.05,12.8 L-5.05,6 Q-5.05,3.6 -2.8,3.6 L2.8,3.6 Q5.05,3.6 5.05,6 L5.05,12.8 Q5.05,13.5 4.5,13.5 Q4.0,13.5 4.0,12.8 L4.0,7.2 L3.5,7.2 L3.5,14.2 L2.8,14.2 L2.8,24 L0.35,24 L0.35,15.2 L-0.35,15.2 L-0.35,24 L-2.8,24 L-2.8,14.2 L-3.5,14.2 L-3.5,7.2 L-4.0,7.2 L-4.0,12.8 Q-4.0,13.5 -4.5,13.5 Q-5.05,13.5 -5.05,12.8 Z" fill="#c8102e" stroke="#fff" stroke-width="0.7" paint-order="stroke" stroke-linejoin="round"/><circle cx="0" cy="0" r="2.55" fill="#c8102e" stroke="#fff" stroke-width="0.7" paint-order="stroke"/></g>
<g transform="translate(419.10,157.20) scale(1.0)"><path d="M-5.05,12.8 L-5.05,6 Q-5.05,3.6 -2.8,3.6 L2.8,3.6 Q5.05,3.6 5.05,6 L5.05,12.8 Q5.05,13.5 4.5,13.5 Q4.0,13.5 4.0,12.8 L4.0,7.2 L3.5,7.2 L3.5,14.2 L2.8,14.2 L2.8,24 L0.35,24 L0.35,15.2 L-0.35,15.2 L-0.35,24 L-2.8,24 L-2.8,14.2 L-3.5,14.2 L-3.5,7.2 L-4.0,7.2 L-4.0,12.8 Q-4.0,13.5 -4.5,13.5 Q-5.05,13.5 -5.05,12.8 Z" fill="#c8102e" stroke="#fff" stroke-width="0.7" paint-order="stroke" stroke-linejoin="round"/><circle cx="0" cy="0" r="2.55" fill="#c8102e" stroke="#fff" stroke-width="0.7" paint-order="stroke"/></g>
<g transform="translate(473.90,118.70) scale(1.0)"><path d="M-5.05,12.8 L-5.05,6 Q-5.05,3.6 -2.8,3.6 L2.8,3.6 Q5.05,3.6 5.05,6 L5.05,12.8 Q5.05,13.5 4.5,13.5 Q4.0,13.5 4.0,12.8 L4.0,7.2 L3.5,7.2 L3.5,14.2 L2.8,14.2 L2.8,24 L0.35,24 L0.35,15.2 L-0.35,15.2 L-0.35,24 L-2.8,24 L-2.8,14.2 L-3.5,14.2 L-3.5,7.2 L-4.0,7.2 L-4.0,12.8 Q-4.0,13.5 -4.5,13.5 Q-5.05,13.5 -5.05,12.8 Z" fill="#1a4f8f" stroke="#fff" stroke-width="0.7" paint-order="stroke" stroke-linejoin="round"/><circle cx="0" cy="0" r="2.55" fill="#1a4f8f" stroke="#fff" stroke-width="0.7" paint-order="stroke"/></g>
<g transform="translate(486.30,118.70) scale(1.0)"><path d="M-5.05,12.8 L-5.05,6 Q-5.05,3.6 -2.8,3.6 L2.8,3.6 Q5.05,3.6 5.05,6 L5.05,12.8 Q5.05,13.5 4.5,13.5 Q4.0,13.5 4.0,12.8 L4.0,7.2 L3.5,7.2 L3.5,14.2 L2.8,14.2 L2.8,24 L0.35,24 L0.35,15.2 L-0.35,15.2 L-0.35,24 L-2.8,24 L-2.8,14.2 L-3.5,14.2 L-3.5,7.2 L-4.0,7.2 L-4.0,12.8 Q-4.0,13.5 -4.5,13.5 Q-5.05,13.5 -5.05,12.8 Z" fill="#1a4f8f" stroke="#fff" stroke-width="0.7" paint-order="stroke" stroke-linejoin="round"/><circle cx="0" cy="0" r="2.55" fill="#1a4f8f" stroke="#fff" stroke-width="0.7" paint-order="stroke"/></g>
<g transform="translate(499.00,118.70) scale(1.0)"><path d="M-5.05,12.8 L-5.05,6 Q-5.05,3.6 -2.8,3.6 L2.8,3.6 Q5.05,3.6 5.05,6 L5.05,12.8 Q5.05,13.5 4.5,13.5 Q4.0,13.5 4.0,12.8 L4.0,7.2 L3.5,7.2 L3.5,14.2 L2.8,14.2 L2.8,24 L0.35,24 L0.35,15.2 L-0.35,15.2 L-0.35,24 L-2.8,24 L-2.8,14.2 L-3.5,14.2 L-3.5,7.2 L-4.0,7.2 L-4.0,12.8 Q-4.0,13.5 -4.5,13.5 Q-5.05,13.5 -5.05,12.8 Z" fill="#1a4f8f" stroke="#fff" stroke-width="0.7" paint-order="stroke" stroke-linejoin="round"/><circle cx="0" cy="0" r="2.55" fill="#1a4f8f" stroke="#fff" stroke-width="0.7" paint-order="stroke"/></g>
<g transform="translate(473.60,150.80) scale(1.0)"><path d="M-5.05,12.8 L-5.05,6 Q-5.05,3.6 -2.8,3.6 L2.8,3.6 Q5.05,3.6 5.05,6 L5.05,12.8 Q5.05,13.5 4.5,13.5 Q4.0,13.5 4.0,12.8 L4.0,7.2 L3.5,7.2 L3.5,14.2 L2.8,14.2 L2.8,24 L0.35,24 L0.35,15.2 L-0.35,15.2 L-0.35,24 L-2.8,24 L-2.8,14.2 L-3.5,14.2 L-3.5,7.2 L-4.0,7.2 L-4.0,12.8 Q-4.0,13.5 -4.5,13.5 Q-5.05,13.5 -5.05,12.8 Z" fill="#c8102e" stroke="#fff" stroke-width="0.7" paint-order="stroke" stroke-linejoin="round"/><circle cx="0" cy="0" r="2.55" fill="#c8102e" stroke="#fff" stroke-width="0.7" paint-order="stroke"/></g>
<g transform="translate(486.30,150.80) scale(1.0)"><path d="M-5.05,12.8 L-5.05,6 Q-5.05,3.6 -2.8,3.6 L2.8,3.6 Q5.05,3.6 5.05,6 L5.05,12.8 Q5.05,13.5 4.5,13.5 Q4.0,13.5 4.0,12.8 L4.0,7.2 L3.5,7.2 L3.5,14.2 L2.8,14.2 L2.8,24 L0.35,24 L0.35,15.2 L-0.35,15.2 L-0.35,24 L-2.8,24 L-2.8,14.2 L-3.5,14.2 L-3.5,7.2 L-4.0,7.2 L-4.0,12.8 Q-4.0,13.5 -4.5,13.5 Q-5.05,13.5 -5.05,12.8 Z" fill="#c8102e" stroke="#fff" stroke-width="0.7" paint-order="stroke" stroke-linejoin="round"/><circle cx="0" cy="0" r="2.55" fill="#c8102e" stroke="#fff" stroke-width="0.7" paint-order="stroke"/></g>
<g transform="translate(499.30,150.80) scale(1.0)"><path d="M-5.05,12.8 L-5.05,6 Q-5.05,3.6 -2.8,3.6 L2.8,3.6 Q5.05,3.6 5.05,6 L5.05,12.8 Q5.05,13.5 4.5,13.5 Q4.0,13.5 4.0,12.8 L4.0,7.2 L3.5,7.2 L3.5,14.2 L2.8,14.2 L2.8,24 L0.35,24 L0.35,15.2 L-0.35,15.2 L-0.35,24 L-2.8,24 L-2.8,14.2 L-3.5,14.2 L-3.5,7.2 L-4.0,7.2 L-4.0,12.8 Q-4.0,13.5 -4.5,13.5 Q-5.05,13.5 -5.05,12.8 Z" fill="#c8102e" stroke="#fff" stroke-width="0.7" paint-order="stroke" stroke-linejoin="round"/><circle cx="0" cy="0" r="2.55" fill="#c8102e" stroke="#fff" stroke-width="0.7" paint-order="stroke"/></g>
<path d="M438.6,146.1 L450.7,146.1" fill="none" stroke="#111" stroke-width="1" />
<path d="M459,131.3 L453.5,131.3 Q450.7,131.3 450.7,134 L450.7,158.2 Q450.7,160.9 453.5,160.9 L459,160.9" fill="none" stroke="#111" stroke-width="1" />
<path d="M458.5,129 L463.3,131.3 L458.5,133.6 Z" fill="#111" />
<path d="M458.5,158.6 L463.3,160.9 L458.5,163.2 Z" fill="#111" />
<text x="10.80" y="214.10" font-size="11.4" fill="#111" textLength="7.40" lengthAdjust="spacingAndGlyphs" font-weight="bold" stroke="#111" stroke-width="0.55">B</text>
<text x="43.00" y="260.90" font-size="9" fill="#222" textLength="65.50" lengthAdjust="spacingAndGlyphs" stroke="#222" stroke-width="0.12">Alpha diversity</text>
<line x1="34.50" y1="274.10" x2="34.50" y2="397.50" stroke="#222" stroke-width="1.1" />
<line x1="33.90" y1="397.00" x2="115.20" y2="397.00" stroke="#222" stroke-width="1.1" />
<line x1="31.50" y1="397.00" x2="34.50" y2="397.00" stroke="#222" stroke-width="0.9" />
<text x="28.30" y="400.10" font-size="8.6" fill="#333" text-anchor="end" stroke="#333" stroke-width="0.12">0</text>
<line x1="31.50" y1="372.98" x2="34.50" y2="372.98" stroke="#222" stroke-width="0.9" />
<text x="28.30" y="376.08" font-size="8.6" fill="#333" text-anchor="end" stroke="#333" stroke-width="0.12">1</text>
<line x1="31.50" y1="348.96" x2="34.50" y2="348.96" stroke="#222" stroke-width="0.9" />
<text x="28.30" y="352.06" font-size="8.6" fill="#333" text-anchor="end" stroke="#333" stroke-width="0.12">2</text>
<line x1="31.50" y1="324.94" x2="34.50" y2="324.94" stroke="#222" stroke-width="0.9" />
<text x="28.30" y="328.04" font-size="8.6" fill="#333" text-anchor="end" stroke="#333" stroke-width="0.12">3</text>
<line x1="31.50" y1="300.92" x2="34.50" y2="300.92" stroke="#222" stroke-width="0.9" />
<text x="28.30" y="304.02" font-size="8.6" fill="#333" text-anchor="end" stroke="#333" stroke-width="0.12">4</text>
<line x1="31.50" y1="276.90" x2="34.50" y2="276.90" stroke="#222" stroke-width="0.9" />
<text x="28.30" y="280.00" font-size="8.6" fill="#333" text-anchor="end" stroke="#333" stroke-width="0.12">5</text>
<line x1="57.30" y1="397.00" x2="57.30" y2="400.00" stroke="#222" stroke-width="0.9" />
<line x1="91.30" y1="397.00" x2="91.30" y2="400.00" stroke="#222" stroke-width="0.9" />
<rect x="46.40" y="305.30" width="21.70" height="91.70" fill="#154b86" />
<rect x="80.40" y="314.20" width="21.90" height="82.80" fill="#c8062a" />
<line x1="57.30" y1="305.30" x2="57.30" y2="292.40" stroke="#222" stroke-width="0.9" />
<line x1="51.50" y1="292.40" x2="63.10" y2="292.40" stroke="#222" stroke-width="1" />
<line x1="91.30" y1="314.20" x2="91.30" y2="297.00" stroke="#222" stroke-width="0.9" />
<line x1="85.70" y1="297.00" x2="96.90" y2="297.00" stroke="#222" stroke-width="1" />
<path d="M58.8,278.7 L58.8,272.9 L91,272.9 L91,278.7" fill="none" stroke="#333" stroke-width="0.9" />
<text x="75.10" y="273.80" font-size="9" fill="#333" text-anchor="middle" stroke="#333" stroke-width="0.12">***</text>
<text x="52.20" y="409.80" font-size="8.6" fill="#333" textLength="10.40" lengthAdjust="spacingAndGlyphs" stroke="#333" stroke-width="0.12">HC</text>
<text x="79.20" y="409.80" font-size="8.6" fill="#333" textLength="25.20" lengthAdjust="spacingAndGlyphs" stroke="#333" stroke-width="0.12">DLBCL</text>
<text x="19.20" y="350.60" font-size="10.5" fill="#333" textLength="30.20" lengthAdjust="spacingAndGlyphs" transform="rotate(-90 19.20 350.60)" stroke="#333" stroke-width="0.12">Shannon</text>
<text x="130.50" y="214.40" font-size="11.4" fill="#111" textLength="7.60" lengthAdjust="spacingAndGlyphs" font-weight="bold" stroke="#111" stroke-width="0.55">C</text>
<g stroke-width="0.7" fill="none"><line x1="235.2" y1="301.2" x2="220.3" y2="317.6" stroke="#1d4f8c" stroke-opacity="0.9"/><line x1="235.2" y1="301.2" x2="216.3" y2="314.1" stroke="#7a9ccc" stroke-opacity="0.9"/><line x1="259.7" y1="312.5" x2="215.0" y2="329.0" stroke="#e46a84" stroke-opacity="0.9"/><line x1="259.7" y1="312.5" x2="320.9" y2="288.9" stroke="#e46a84" stroke-opacity="0.9"/><line x1="235.2" y1="301.2" x2="256.9" y2="266.2" stroke="#1d4f8c" stroke-opacity="0.9"/><line x1="259.7" y1="312.5" x2="279.2" y2="300.4" stroke="#c8103a" stroke-opacity="0.9"/><line x1="235.2" y1="301.2" x2="312.4" y2="287.5" stroke="#1d4f8c" stroke-opacity="0.9"/><line x1="235.2" y1="301.2" x2="313.8" y2="280.8" stroke="#1d4f8c" stroke-opacity="0.9"/><line x1="235.2" y1="301.2" x2="273.5" y2="295.5" stroke="#1d4f8c" stroke-opacity="0.9"/><line x1="235.2" y1="301.2" x2="237.5" y2="253.5" stroke="#1d4f8c" stroke-opacity="0.9"/><line x1="235.2" y1="301.2" x2="240.8" y2="303.7" stroke="#1d4f8c" stroke-opacity="0.9"/><line x1="235.2" y1="301.2" x2="220.0" y2="341.1" stroke="#7a9ccc" stroke-opacity="0.9"/><line x1="259.7" y1="312.5" x2="281.2" y2="283.1" stroke="#c8103a" stroke-opacity="0.9"/><line x1="235.2" y1="301.2" x2="206.5" y2="330.5" stroke="#1d4f8c" stroke-opacity="0.9"/><line x1="259.7" y1="312.5" x2="226.6" y2="338.9" stroke="#e46a84" stroke-opacity="0.9"/><line x1="259.7" y1="312.5" x2="294.6" y2="263.6" stroke="#c8103a" stroke-opacity="0.9"/><line x1="259.7" y1="312.5" x2="262.2" y2="260.9" stroke="#e46a84" stroke-opacity="0.9"/><line x1="259.7" y1="312.5" x2="310.3" y2="360.6" stroke="#c8103a" stroke-opacity="0.9"/><line x1="235.2" y1="301.2" x2="223.3" y2="341.4" stroke="#1d4f8c" stroke-opacity="0.9"/><line x1="235.2" y1="301.2" x2="204.5" y2="305.4" stroke="#1d4f8c" stroke-opacity="0.9"/><line x1="235.2" y1="301.2" x2="204.9" y2="318.5" stroke="#7a9ccc" stroke-opacity="0.9"/><line x1="259.7" y1="312.5" x2="230.6" y2="341.6" stroke="#e46a84" stroke-opacity="0.9"/><line x1="259.7" y1="312.5" x2="293.6" y2="368.4" stroke="#c8103a" stroke-opacity="0.9"/><line x1="259.7" y1="312.5" x2="320.6" y2="295.5" stroke="#c8103a" stroke-opacity="0.9"/><line x1="259.7" y1="312.5" x2="240.0" y2="351.3" stroke="#e46a84" stroke-opacity="0.9"/><line x1="259.7" y1="312.5" x2="259.1" y2="362.8" stroke="#c8103a" stroke-opacity="0.9"/><line x1="235.2" y1="301.2" x2="225.6" y2="306.3" stroke="#1d4f8c" stroke-opacity="0.9"/><line x1="259.7" y1="312.5" x2="242.1" y2="294.7" stroke="#c8103a" stroke-opacity="0.9"/><line x1="235.2" y1="301.2" x2="233.7" y2="253.8" stroke="#7a9ccc" stroke-opacity="0.9"/><line x1="235.2" y1="301.2" x2="239.5" y2="266.3" stroke="#1d4f8c" stroke-opacity="0.9"/><line x1="235.2" y1="301.2" x2="223.5" y2="351.0" stroke="#1d4f8c" stroke-opacity="0.9"/><line x1="235.2" y1="301.2" x2="230.2" y2="263.1" stroke="#1d4f8c" stroke-opacity="0.9"/><line x1="235.2" y1="301.2" x2="219.7" y2="368.0" stroke="#1d4f8c" stroke-opacity="0.9"/><line x1="235.2" y1="301.2" x2="243.5" y2="290.8" stroke="#7a9ccc" stroke-opacity="0.9"/><line x1="259.7" y1="312.5" x2="308.2" y2="360.8" stroke="#c8103a" stroke-opacity="0.9"/><line x1="259.7" y1="312.5" x2="250.3" y2="252.0" stroke="#e46a84" stroke-opacity="0.9"/><line x1="235.2" y1="301.2" x2="231.8" y2="366.0" stroke="#7a9ccc" stroke-opacity="0.9"/><line x1="259.7" y1="312.5" x2="263.7" y2="303.5" stroke="#e46a84" stroke-opacity="0.9"/><line x1="235.2" y1="301.2" x2="223.6" y2="357.2" stroke="#7a9ccc" stroke-opacity="0.9"/><line x1="235.2" y1="301.2" x2="225.8" y2="367.7" stroke="#1d4f8c" stroke-opacity="0.9"/><line x1="259.7" y1="312.5" x2="312.0" y2="311.6" stroke="#c8103a" stroke-opacity="0.9"/><line x1="259.7" y1="312.5" x2="246.6" y2="349.6" stroke="#c8103a" stroke-opacity="0.9"/><line x1="235.2" y1="301.2" x2="209.6" y2="355.9" stroke="#1d4f8c" stroke-opacity="0.9"/><line x1="235.2" y1="301.2" x2="228.9" y2="259.1" stroke="#1d4f8c" stroke-opacity="0.9"/><line x1="259.7" y1="312.5" x2="282.1" y2="260.9" stroke="#c8103a" stroke-opacity="0.9"/><line x1="259.7" y1="312.5" x2="210.0" y2="362.1" stroke="#c8103a" stroke-opacity="0.9"/><line x1="235.2" y1="301.2" x2="215.4" y2="333.5" stroke="#7a9ccc" stroke-opacity="0.9"/><line x1="259.7" y1="312.5" x2="271.5" y2="267.3" stroke="#e46a84" stroke-opacity="0.9"/><line x1="259.7" y1="312.5" x2="324.6" y2="292.9" stroke="#e46a84" stroke-opacity="0.9"/><line x1="259.7" y1="312.5" x2="225.5" y2="350.6" stroke="#c8103a" stroke-opacity="0.9"/><line x1="259.7" y1="312.5" x2="278.7" y2="328.9" stroke="#e46a84" stroke-opacity="0.9"/><line x1="235.2" y1="301.2" x2="220.7" y2="285.7" stroke="#1d4f8c" stroke-opacity="0.9"/><line x1="259.7" y1="312.5" x2="287.9" y2="288.7" stroke="#c8103a" stroke-opacity="0.9"/><line x1="235.2" y1="301.2" x2="216.6" y2="285.3" stroke="#7a9ccc" stroke-opacity="0.9"/><line x1="235.2" y1="301.2" x2="224.0" y2="312.7" stroke="#7a9ccc" stroke-opacity="0.9"/><line x1="235.2" y1="301.2" x2="211.0" y2="320.0" stroke="#7a9ccc" stroke-opacity="0.9"/><line x1="259.7" y1="312.5" x2="251.0" y2="307.1" stroke="#c8103a" stroke-opacity="0.9"/><line x1="235.2" y1="301.2" x2="308.6" y2="379.2" stroke="#1d4f8c" stroke-opacity="0.9"/><line x1="259.7" y1="312.5" x2="229.8" y2="356.9" stroke="#c8103a" stroke-opacity="0.9"/><line x1="235.2" y1="301.2" x2="209.7" y2="312.9" stroke="#1d4f8c" stroke-opacity="0.9"/><line x1="259.7" y1="312.5" x2="311.5" y2="329.1" stroke="#c8103a" stroke-opacity="0.9"/><line x1="235.2" y1="301.2" x2="216.6" y2="314.7" stroke="#1d4f8c" stroke-opacity="0.9"/><line x1="259.7" y1="312.5" x2="260.2" y2="287.7" stroke="#c8103a" stroke-opacity="0.9"/><line x1="235.2" y1="301.2" x2="205.5" y2="289.1" stroke="#1d4f8c" stroke-opacity="0.9"/><line x1="235.2" y1="301.2" x2="236.7" y2="249.7" stroke="#7a9ccc" stroke-opacity="0.9"/><line x1="235.2" y1="301.2" x2="238.8" y2="295.9" stroke="#7a9ccc" stroke-opacity="0.9"/><line x1="235.2" y1="301.2" x2="213.8" y2="282.4" stroke="#1d4f8c" stroke-opacity="0.9"/><line x1="235.2" y1="301.2" x2="228.8" y2="365.6" stroke="#7a9ccc" stroke-opacity="0.9"/><line x1="259.7" y1="312.5" x2="254.0" y2="335.4" stroke="#c8103a" stroke-opacity="0.9"/><line x1="235.2" y1="301.2" x2="232.7" y2="294.1" stroke="#1d4f8c" stroke-opacity="0.9"/><line x1="235.2" y1="301.2" x2="206.4" y2="343.5" stroke="#7a9ccc" stroke-opacity="0.9"/><line x1="259.7" y1="312.5" x2="317.0" y2="304.6" stroke="#e46a84" stroke-opacity="0.9"/><line x1="235.2" y1="301.2" x2="207.9" y2="308.8" stroke="#1d4f8c" stroke-opacity="0.9"/><line x1="235.2" y1="301.2" x2="240.9" y2="301.6" stroke="#7a9ccc" stroke-opacity="0.9"/><line x1="259.7" y1="312.5" x2="280.8" y2="319.5" stroke="#e46a84" stroke-opacity="0.9"/><line x1="235.2" y1="301.2" x2="244.1" y2="304.9" stroke="#1d4f8c" stroke-opacity="0.9"/><line x1="235.2" y1="301.2" x2="253.2" y2="265.0" stroke="#1d4f8c" stroke-opacity="0.9"/><line x1="259.7" y1="312.5" x2="242.5" y2="259.1" stroke="#c8103a" stroke-opacity="0.9"/><line x1="259.7" y1="312.5" x2="296.1" y2="367.9" stroke="#e46a84" stroke-opacity="0.9"/><line x1="235.2" y1="301.2" x2="309.5" y2="290.9" stroke="#1d4f8c" stroke-opacity="0.9"/><line x1="235.2" y1="301.2" x2="218.5" y2="284.1" stroke="#1d4f8c" stroke-opacity="0.9"/><line x1="259.7" y1="312.5" x2="280.0" y2="301.4" stroke="#e46a84" stroke-opacity="0.9"/><line x1="235.2" y1="301.2" x2="244.6" y2="307.1" stroke="#7a9ccc" stroke-opacity="0.9"/><line x1="235.2" y1="301.2" x2="215.4" y2="283.4" stroke="#1d4f8c" stroke-opacity="0.9"/><line x1="259.7" y1="312.5" x2="278.4" y2="336.6" stroke="#c8103a" stroke-opacity="0.9"/><line x1="235.2" y1="301.2" x2="226.2" y2="316.8" stroke="#1d4f8c" stroke-opacity="0.9"/><line x1="259.7" y1="312.5" x2="298.9" y2="316.1" stroke="#e46a84" stroke-opacity="0.9"/><line x1="259.7" y1="312.5" x2="262.7" y2="262.4" stroke="#c8103a" stroke-opacity="0.9"/><line x1="235.2" y1="301.2" x2="230.6" y2="256.0" stroke="#7a9ccc" stroke-opacity="0.9"/><line x1="235.2" y1="301.2" x2="217.5" y2="291.2" stroke="#1d4f8c" stroke-opacity="0.9"/><line x1="259.7" y1="312.5" x2="252.9" y2="335.1" stroke="#c8103a" stroke-opacity="0.9"/><line x1="259.7" y1="312.5" x2="307.8" y2="333.9" stroke="#c8103a" stroke-opacity="0.9"/><line x1="235.2" y1="301.2" x2="251.0" y2="257.6" stroke="#1d4f8c" stroke-opacity="0.9"/><line x1="235.2" y1="301.2" x2="214.1" y2="366.6" stroke="#1d4f8c" stroke-opacity="0.9"/><line x1="235.2" y1="301.2" x2="226.5" y2="318.9" stroke="#1d4f8c" stroke-opacity="0.9"/><line x1="259.7" y1="312.5" x2="270.3" y2="291.9" stroke="#e46a84" stroke-opacity="0.9"/><line x1="235.2" y1="301.2" x2="290.0" y2="300.0" stroke="#7a9ccc" stroke-opacity="0.9"/><line x1="235.2" y1="301.2" x2="208.2" y2="322.6" stroke="#7a9ccc" stroke-opacity="0.9"/><line x1="259.7" y1="312.5" x2="278.2" y2="302.5" stroke="#c8103a" stroke-opacity="0.9"/><line x1="235.2" y1="301.2" x2="209.5" y2="287.6" stroke="#1d4f8c" stroke-opacity="0.9"/><line x1="259.7" y1="312.5" x2="304.3" y2="329.5" stroke="#e46a84" stroke-opacity="0.9"/><line x1="259.7" y1="312.5" x2="301.7" y2="336.9" stroke="#c8103a" stroke-opacity="0.9"/><line x1="259.7" y1="312.5" x2="222.0" y2="345.8" stroke="#c8103a" stroke-opacity="0.9"/><line x1="259.7" y1="312.5" x2="258.7" y2="303.9" stroke="#c8103a" stroke-opacity="0.9"/><line x1="235.2" y1="301.2" x2="222.3" y2="346.9" stroke="#1d4f8c" stroke-opacity="0.9"/><line x1="259.7" y1="312.5" x2="253.3" y2="357.2" stroke="#e46a84" stroke-opacity="0.9"/><line x1="235.2" y1="301.2" x2="220.7" y2="263.4" stroke="#7a9ccc" stroke-opacity="0.9"/><line x1="235.2" y1="301.2" x2="243.6" y2="263.4" stroke="#7a9ccc" stroke-opacity="0.9"/><line x1="259.7" y1="312.5" x2="292.0" y2="259.7" stroke="#c8103a" stroke-opacity="0.9"/><line x1="235.2" y1="301.2" x2="223.7" y2="268.5" stroke="#7a9ccc" stroke-opacity="0.9"/><line x1="235.2" y1="301.2" x2="252.5" y2="298.9" stroke="#1d4f8c" stroke-opacity="0.9"/><line x1="259.7" y1="312.5" x2="317.9" y2="370.0" stroke="#c8103a" stroke-opacity="0.9"/><line x1="259.7" y1="312.5" x2="300.3" y2="376.5" stroke="#c8103a" stroke-opacity="0.9"/><line x1="259.7" y1="312.5" x2="304.1" y2="353.3" stroke="#e46a84" stroke-opacity="0.9"/><line x1="259.7" y1="312.5" x2="272.5" y2="312.1" stroke="#c8103a" stroke-opacity="0.9"/><line x1="235.2" y1="301.2" x2="297.2" y2="264.2" stroke="#1d4f8c" stroke-opacity="0.9"/><line x1="235.2" y1="301.2" x2="250.2" y2="292.4" stroke="#1d4f8c" stroke-opacity="0.9"/><line x1="259.7" y1="312.5" x2="292.1" y2="360.4" stroke="#c8103a" stroke-opacity="0.9"/><line x1="259.7" y1="312.5" x2="315.4" y2="316.9" stroke="#c8103a" stroke-opacity="0.9"/><line x1="235.2" y1="301.2" x2="218.3" y2="303.8" stroke="#1d4f8c" stroke-opacity="0.9"/><line x1="259.7" y1="312.5" x2="242.0" y2="363.1" stroke="#c8103a" stroke-opacity="0.9"/><line x1="235.2" y1="301.2" x2="205.7" y2="301.8" stroke="#1d4f8c" stroke-opacity="0.9"/><line x1="235.2" y1="301.2" x2="232.7" y2="248.4" stroke="#1d4f8c" stroke-opacity="0.9"/><line x1="235.2" y1="301.2" x2="314.9" y2="299.0" stroke="#1d4f8c" stroke-opacity="0.9"/><line x1="259.7" y1="312.5" x2="323.6" y2="365.6" stroke="#e46a84" stroke-opacity="0.9"/><line x1="235.2" y1="301.2" x2="212.0" y2="315.6" stroke="#1d4f8c" stroke-opacity="0.9"/><line x1="259.7" y1="312.5" x2="271.9" y2="258.6" stroke="#e46a84" stroke-opacity="0.9"/><line x1="259.7" y1="312.5" x2="261.2" y2="349.8" stroke="#c8103a" stroke-opacity="0.9"/><line x1="235.2" y1="301.2" x2="249.1" y2="324.2" stroke="#1d4f8c" stroke-opacity="0.9"/><line x1="235.2" y1="301.2" x2="223.8" y2="268.2" stroke="#7a9ccc" stroke-opacity="0.9"/><line x1="259.7" y1="312.5" x2="314.1" y2="364.6" stroke="#c8103a" stroke-opacity="0.9"/><line x1="259.7" y1="312.5" x2="264.0" y2="268.7" stroke="#e46a84" stroke-opacity="0.9"/><line x1="259.7" y1="312.5" x2="317.1" y2="289.0" stroke="#c8103a" stroke-opacity="0.9"/><line x1="259.7" y1="312.5" x2="262.1" y2="303.4" stroke="#c8103a" stroke-opacity="0.9"/><line x1="259.7" y1="312.5" x2="290.1" y2="285.0" stroke="#e46a84" stroke-opacity="0.9"/><line x1="259.7" y1="312.5" x2="304.9" y2="390.1" stroke="#c8103a" stroke-opacity="0.9"/><line x1="259.7" y1="312.5" x2="281.1" y2="280.4" stroke="#c8103a" stroke-opacity="0.9"/><line x1="259.7" y1="312.5" x2="313.3" y2="297.3" stroke="#c8103a" stroke-opacity="0.9"/><line x1="235.2" y1="301.2" x2="241.2" y2="268.2" stroke="#1d4f8c" stroke-opacity="0.9"/><line x1="259.7" y1="312.5" x2="261.2" y2="260.1" stroke="#c8103a" stroke-opacity="0.9"/><line x1="259.7" y1="312.5" x2="252.4" y2="270.9" stroke="#c8103a" stroke-opacity="0.9"/><line x1="259.7" y1="312.5" x2="250.6" y2="294.3" stroke="#e46a84" stroke-opacity="0.9"/><line x1="259.7" y1="312.5" x2="287.6" y2="330.7" stroke="#e46a84" stroke-opacity="0.9"/><line x1="235.2" y1="301.2" x2="229.0" y2="355.0" stroke="#7a9ccc" stroke-opacity="0.9"/><line x1="235.2" y1="301.2" x2="233.5" y2="260.3" stroke="#7a9ccc" stroke-opacity="0.9"/><line x1="235.2" y1="301.2" x2="225.4" y2="367.8" stroke="#1d4f8c" stroke-opacity="0.9"/><line x1="235.2" y1="301.2" x2="244.7" y2="323.8" stroke="#7a9ccc" stroke-opacity="0.9"/><line x1="259.7" y1="312.5" x2="247.1" y2="350.4" stroke="#e46a84" stroke-opacity="0.9"/><line x1="259.7" y1="312.5" x2="312.2" y2="310.2" stroke="#c8103a" stroke-opacity="0.9"/><line x1="259.7" y1="312.5" x2="291.9" y2="333.9" stroke="#e46a84" stroke-opacity="0.9"/><line x1="259.7" y1="312.5" x2="247.8" y2="272.0" stroke="#e46a84" stroke-opacity="0.9"/><line x1="235.2" y1="301.2" x2="244.2" y2="281.3" stroke="#1d4f8c" stroke-opacity="0.9"/><line x1="259.7" y1="312.5" x2="257.7" y2="343.9" stroke="#c8103a" stroke-opacity="0.9"/><line x1="259.7" y1="312.5" x2="200.4" y2="339.6" stroke="#e46a84" stroke-opacity="0.9"/><line x1="259.7" y1="312.5" x2="297.6" y2="311.9" stroke="#e46a84" stroke-opacity="0.9"/><line x1="235.2" y1="301.2" x2="223.4" y2="304.1" stroke="#1d4f8c" stroke-opacity="0.9"/><line x1="235.2" y1="301.2" x2="211.3" y2="356.3" stroke="#1d4f8c" stroke-opacity="0.9"/><line x1="259.7" y1="312.5" x2="271.0" y2="336.8" stroke="#c8103a" stroke-opacity="0.9"/><line x1="259.7" y1="312.5" x2="226.4" y2="348.4" stroke="#c8103a" stroke-opacity="0.9"/><line x1="259.7" y1="312.5" x2="313.0" y2="315.0" stroke="#e46a84" stroke-opacity="0.9"/><line x1="259.7" y1="312.5" x2="301.1" y2="322.7" stroke="#c8103a" stroke-opacity="0.9"/><line x1="259.7" y1="312.5" x2="297.2" y2="370.0" stroke="#c8103a" stroke-opacity="0.9"/><line x1="259.7" y1="312.5" x2="227.8" y2="356.5" stroke="#c8103a" stroke-opacity="0.9"/><line x1="259.7" y1="312.5" x2="322.0" y2="319.2" stroke="#c8103a" stroke-opacity="0.9"/><line x1="259.7" y1="312.5" x2="308.1" y2="362.1" stroke="#c8103a" stroke-opacity="0.9"/><line x1="259.7" y1="312.5" x2="256.8" y2="283.3" stroke="#e46a84" stroke-opacity="0.9"/><line x1="259.7" y1="312.5" x2="270.3" y2="310.5" stroke="#c8103a" stroke-opacity="0.9"/><line x1="259.7" y1="312.5" x2="322.0" y2="339.9" stroke="#c8103a" stroke-opacity="0.9"/><line x1="259.7" y1="312.5" x2="228.1" y2="356.2" stroke="#c8103a" stroke-opacity="0.9"/><line x1="235.2" y1="301.2" x2="269.0" y2="275.4" stroke="#1d4f8c" stroke-opacity="0.9"/><line x1="259.7" y1="312.5" x2="265.0" y2="257.7" stroke="#c8103a" stroke-opacity="0.9"/><line x1="235.2" y1="301.2" x2="213.3" y2="361.5" stroke="#1d4f8c" stroke-opacity="0.9"/><line x1="235.2" y1="301.2" x2="214.1" y2="363.9" stroke="#7a9ccc" stroke-opacity="0.9"/><line x1="259.7" y1="312.5" x2="246.5" y2="358.4" stroke="#e46a84" stroke-opacity="0.9"/><line x1="259.7" y1="312.5" x2="277.0" y2="349.5" stroke="#c8103a" stroke-opacity="0.9"/><line x1="259.7" y1="312.5" x2="224.6" y2="355.3" stroke="#e46a84" stroke-opacity="0.9"/><line x1="259.7" y1="312.5" x2="303.4" y2="389.0" stroke="#c8103a" stroke-opacity="0.9"/><line x1="259.7" y1="312.5" x2="299.5" y2="294.1" stroke="#e46a84" stroke-opacity="0.9"/><line x1="235.2" y1="301.2" x2="283.2" y2="290.6" stroke="#1d4f8c" stroke-opacity="0.9"/><line x1="235.2" y1="301.2" x2="314.0" y2="385.0" stroke="#7a9ccc" stroke-opacity="0.9"/><line x1="235.2" y1="301.2" x2="257.2" y2="301.9" stroke="#7a9ccc" stroke-opacity="0.9"/><line x1="259.7" y1="312.5" x2="306.4" y2="368.6" stroke="#e46a84" stroke-opacity="0.9"/><line x1="235.2" y1="301.2" x2="301.7" y2="289.8" stroke="#1d4f8c" stroke-opacity="0.9"/><line x1="235.2" y1="301.2" x2="228.0" y2="253.0" stroke="#1d4f8c" stroke-opacity="0.9"/><line x1="259.7" y1="312.5" x2="286.3" y2="274.6" stroke="#e46a84" stroke-opacity="0.9"/><line x1="259.7" y1="312.5" x2="312.6" y2="331.9" stroke="#c8103a" stroke-opacity="0.9"/><line x1="259.7" y1="312.5" x2="254.4" y2="258.4" stroke="#c8103a" stroke-opacity="0.9"/><line x1="259.7" y1="312.5" x2="291.4" y2="364.3" stroke="#e46a84" stroke-opacity="0.9"/><line x1="259.7" y1="312.5" x2="267.5" y2="297.5" stroke="#c8103a" stroke-opacity="0.9"/><line x1="259.7" y1="312.5" x2="270.8" y2="319.9" stroke="#e46a84" stroke-opacity="0.9"/><line x1="235.2" y1="301.2" x2="255.7" y2="259.2" stroke="#1d4f8c" stroke-opacity="0.9"/><line x1="259.7" y1="312.5" x2="289.0" y2="348.0" stroke="#c8103a" stroke-opacity="0.9"/><line x1="259.7" y1="312.5" x2="319.9" y2="364.4" stroke="#e46a84" stroke-opacity="0.9"/><line x1="259.7" y1="312.5" x2="273.4" y2="352.4" stroke="#c8103a" stroke-opacity="0.9"/><line x1="259.7" y1="312.5" x2="314.4" y2="286.7" stroke="#e46a84" stroke-opacity="0.9"/><line x1="235.2" y1="301.2" x2="217.1" y2="291.7" stroke="#7a9ccc" stroke-opacity="0.9"/><line x1="235.2" y1="301.2" x2="204.4" y2="316.4" stroke="#1d4f8c" stroke-opacity="0.9"/><line x1="235.2" y1="301.2" x2="218.6" y2="352.4" stroke="#1d4f8c" stroke-opacity="0.9"/><line x1="235.2" y1="301.2" x2="232.9" y2="283.1" stroke="#7a9ccc" stroke-opacity="0.9"/><line x1="259.7" y1="312.5" x2="232.6" y2="341.6" stroke="#e46a84" stroke-opacity="0.9"/><line x1="259.7" y1="312.5" x2="326.0" y2="317.0" stroke="#e46a84" stroke-opacity="0.9"/><line x1="235.2" y1="301.2" x2="301.0" y2="291.8" stroke="#1d4f8c" stroke-opacity="0.9"/><line x1="235.2" y1="301.2" x2="247.6" y2="262.8" stroke="#7a9ccc" stroke-opacity="0.9"/><line x1="259.7" y1="312.5" x2="296.3" y2="266.7" stroke="#c8103a" stroke-opacity="0.9"/><line x1="259.7" y1="312.5" x2="312.2" y2="333.2" stroke="#e46a84" stroke-opacity="0.9"/><line x1="235.2" y1="301.2" x2="224.7" y2="289.4" stroke="#1d4f8c" stroke-opacity="0.9"/><line x1="235.2" y1="301.2" x2="253.4" y2="257.3" stroke="#1d4f8c" stroke-opacity="0.9"/><line x1="259.7" y1="312.5" x2="245.9" y2="331.3" stroke="#c8103a" stroke-opacity="0.9"/><line x1="259.7" y1="312.5" x2="301.2" y2="298.9" stroke="#c8103a" stroke-opacity="0.9"/><line x1="235.2" y1="301.2" x2="295.0" y2="275.0" stroke="#1d4f8c" stroke-opacity="0.9"/><line x1="259.7" y1="312.5" x2="270.6" y2="338.6" stroke="#c8103a" stroke-opacity="0.9"/><line x1="235.2" y1="301.2" x2="202.7" y2="359.5" stroke="#1d4f8c" stroke-opacity="0.9"/><line x1="259.7" y1="312.5" x2="253.2" y2="273.4" stroke="#c8103a" stroke-opacity="0.9"/><line x1="259.7" y1="312.5" x2="244.5" y2="321.8" stroke="#c8103a" stroke-opacity="0.9"/><line x1="259.7" y1="312.5" x2="310.8" y2="358.0" stroke="#e46a84" stroke-opacity="0.9"/><line x1="259.7" y1="312.5" x2="243.9" y2="297.3" stroke="#c8103a" stroke-opacity="0.9"/><line x1="259.7" y1="312.5" x2="321.1" y2="339.9" stroke="#e46a84" stroke-opacity="0.9"/><line x1="235.2" y1="301.2" x2="220.2" y2="316.0" stroke="#1d4f8c" stroke-opacity="0.9"/><line x1="235.2" y1="301.2" x2="257.5" y2="271.2" stroke="#1d4f8c" stroke-opacity="0.9"/><line x1="259.7" y1="312.5" x2="244.5" y2="260.1" stroke="#e46a84" stroke-opacity="0.9"/><line x1="235.2" y1="301.2" x2="252.2" y2="283.8" stroke="#1d4f8c" stroke-opacity="0.9"/><line x1="259.7" y1="312.5" x2="258.8" y2="248.4" stroke="#c8103a" stroke-opacity="0.9"/><line x1="259.7" y1="312.5" x2="319.9" y2="355.6" stroke="#c8103a" stroke-opacity="0.9"/><line x1="235.2" y1="301.2" x2="255.3" y2="259.3" stroke="#1d4f8c" stroke-opacity="0.9"/><line x1="259.7" y1="312.5" x2="210.3" y2="341.5" stroke="#c8103a" stroke-opacity="0.9"/><line x1="259.7" y1="312.5" x2="306.4" y2="322.8" stroke="#c8103a" stroke-opacity="0.9"/><line x1="235.2" y1="301.2" x2="226.2" y2="283.2" stroke="#1d4f8c" stroke-opacity="0.9"/><line x1="235.2" y1="301.2" x2="227.6" y2="350.6" stroke="#1d4f8c" stroke-opacity="0.9"/><line x1="259.7" y1="312.5" x2="202.0" y2="333.0" stroke="#c8103a" stroke-opacity="0.9"/><line x1="259.7" y1="312.5" x2="301.7" y2="354.4" stroke="#c8103a" stroke-opacity="0.9"/><line x1="259.7" y1="312.5" x2="298.8" y2="259.3" stroke="#e46a84" stroke-opacity="0.9"/><line x1="235.2" y1="301.2" x2="213.3" y2="284.2" stroke="#1d4f8c" stroke-opacity="0.9"/><line x1="259.7" y1="312.5" x2="240.4" y2="363.8" stroke="#c8103a" stroke-opacity="0.9"/><line x1="259.7" y1="312.5" x2="213.7" y2="344.2" stroke="#c8103a" stroke-opacity="0.9"/><line x1="235.2" y1="301.2" x2="221.2" y2="267.9" stroke="#1d4f8c" stroke-opacity="0.9"/><line x1="235.2" y1="301.2" x2="219.2" y2="303.4" stroke="#7a9ccc" stroke-opacity="0.9"/><line x1="235.2" y1="301.2" x2="256.7" y2="268.3" stroke="#7a9ccc" stroke-opacity="0.9"/><line x1="259.7" y1="312.5" x2="322.4" y2="306.3" stroke="#c8103a" stroke-opacity="0.9"/><line x1="235.2" y1="301.2" x2="251.4" y2="254.5" stroke="#1d4f8c" stroke-opacity="0.9"/><line x1="259.7" y1="312.5" x2="277.3" y2="280.4" stroke="#e46a84" stroke-opacity="0.9"/><line x1="235.2" y1="301.2" x2="221.5" y2="277.4" stroke="#1d4f8c" stroke-opacity="0.9"/><line x1="259.7" y1="312.5" x2="315.3" y2="385.3" stroke="#e46a84" stroke-opacity="0.9"/><line x1="259.7" y1="312.5" x2="302.1" y2="317.1" stroke="#c8103a" stroke-opacity="0.9"/><line x1="235.2" y1="301.2" x2="241.0" y2="310.8" stroke="#1d4f8c" stroke-opacity="0.9"/><line x1="259.7" y1="312.5" x2="244.4" y2="264.1" stroke="#c8103a" stroke-opacity="0.9"/><line x1="259.7" y1="312.5" x2="308.9" y2="370.5" stroke="#e46a84" stroke-opacity="0.9"/><line x1="259.7" y1="312.5" x2="290.6" y2="342.6" stroke="#e46a84" stroke-opacity="0.9"/><line x1="235.2" y1="301.2" x2="246.9" y2="267.0" stroke="#1d4f8c" stroke-opacity="0.9"/><line x1="259.7" y1="312.5" x2="290.9" y2="360.3" stroke="#e46a84" stroke-opacity="0.9"/><line x1="259.7" y1="312.5" x2="209.3" y2="363.7" stroke="#c8103a" stroke-opacity="0.9"/><line x1="235.2" y1="301.2" x2="208.3" y2="318.0" stroke="#7a9ccc" stroke-opacity="0.9"/><line x1="235.2" y1="301.2" x2="230.7" y2="267.4" stroke="#7a9ccc" stroke-opacity="0.9"/><line x1="259.7" y1="312.5" x2="310.2" y2="304.4" stroke="#c8103a" stroke-opacity="0.9"/><line x1="235.2" y1="301.2" x2="241.1" y2="277.4" stroke="#1d4f8c" stroke-opacity="0.9"/><line x1="235.2" y1="301.2" x2="282.3" y2="280.6" stroke="#1d4f8c" stroke-opacity="0.9"/><line x1="259.7" y1="312.5" x2="326.0" y2="316.5" stroke="#c8103a" stroke-opacity="0.9"/><line x1="235.2" y1="301.2" x2="230.8" y2="255.3" stroke="#1d4f8c" stroke-opacity="0.9"/><line x1="259.7" y1="312.5" x2="232.4" y2="328.1" stroke="#c8103a" stroke-opacity="0.9"/><line x1="235.2" y1="301.2" x2="206.0" y2="303.3" stroke="#7a9ccc" stroke-opacity="0.9"/><line x1="259.7" y1="312.5" x2="269.8" y2="278.4" stroke="#c8103a" stroke-opacity="0.9"/><line x1="259.7" y1="312.5" x2="299.0" y2="365.6" stroke="#c8103a" stroke-opacity="0.9"/><line x1="235.2" y1="301.2" x2="286.0" y2="266.0" stroke="#7a9ccc" stroke-opacity="0.9"/><line x1="235.2" y1="301.2" x2="209.3" y2="304.1" stroke="#1d4f8c" stroke-opacity="0.9"/><line x1="259.7" y1="312.5" x2="266.3" y2="364.1" stroke="#c8103a" stroke-opacity="0.9"/><line x1="235.2" y1="301.2" x2="238.9" y2="269.9" stroke="#1d4f8c" stroke-opacity="0.9"/><line x1="259.7" y1="312.5" x2="268.6" y2="319.8" stroke="#e46a84" stroke-opacity="0.9"/><line x1="259.7" y1="312.5" x2="252.0" y2="269.9" stroke="#c8103a" stroke-opacity="0.9"/><line x1="235.2" y1="301.2" x2="248.8" y2="249.0" stroke="#1d4f8c" stroke-opacity="0.9"/><line x1="259.7" y1="312.5" x2="280.5" y2="315.4" stroke="#c8103a" stroke-opacity="0.9"/><line x1="235.2" y1="301.2" x2="250.5" y2="319.3" stroke="#1d4f8c" stroke-opacity="0.9"/><line x1="235.2" y1="301.2" x2="257.4" y2="257.5" stroke="#7a9ccc" stroke-opacity="0.9"/><line x1="259.7" y1="312.5" x2="223.9" y2="356.1" stroke="#e46a84" stroke-opacity="0.9"/><line x1="235.2" y1="301.2" x2="209.2" y2="308.2" stroke="#1d4f8c" stroke-opacity="0.9"/><line x1="235.2" y1="301.2" x2="202.6" y2="354.0" stroke="#1d4f8c" stroke-opacity="0.9"/><line x1="259.7" y1="312.5" x2="266.4" y2="353.5" stroke="#e46a84" stroke-opacity="0.9"/><line x1="259.7" y1="312.5" x2="238.7" y2="348.3" stroke="#e46a84" stroke-opacity="0.9"/><line x1="259.7" y1="312.5" x2="304.2" y2="374.2" stroke="#e46a84" stroke-opacity="0.9"/><line x1="259.7" y1="312.5" x2="228.9" y2="327.9" stroke="#c8103a" stroke-opacity="0.9"/><line x1="259.7" y1="312.5" x2="221.3" y2="341.0" stroke="#c8103a" stroke-opacity="0.9"/><line x1="259.7" y1="312.5" x2="295.7" y2="260.0" stroke="#c8103a" stroke-opacity="0.9"/><line x1="235.2" y1="301.2" x2="295.2" y2="289.0" stroke="#1d4f8c" stroke-opacity="0.9"/><line x1="259.7" y1="312.5" x2="305.0" y2="308.3" stroke="#e46a84" stroke-opacity="0.9"/><line x1="235.2" y1="301.2" x2="226.0" y2="263.8" stroke="#1d4f8c" stroke-opacity="0.9"/><line x1="259.7" y1="312.5" x2="305.7" y2="333.1" stroke="#c8103a" stroke-opacity="0.9"/><line x1="235.2" y1="301.2" x2="233.1" y2="272.7" stroke="#1d4f8c" stroke-opacity="0.9"/><line x1="259.7" y1="312.5" x2="303.6" y2="313.9" stroke="#c8103a" stroke-opacity="0.9"/><line x1="259.7" y1="312.5" x2="235.9" y2="361.1" stroke="#c8103a" stroke-opacity="0.9"/><line x1="259.7" y1="312.5" x2="249.9" y2="258.9" stroke="#c8103a" stroke-opacity="0.9"/><line x1="259.7" y1="312.5" x2="254.1" y2="310.7" stroke="#c8103a" stroke-opacity="0.9"/><line x1="259.7" y1="312.5" x2="293.6" y2="270.6" stroke="#c8103a" stroke-opacity="0.9"/><line x1="259.7" y1="312.5" x2="268.2" y2="295.2" stroke="#c8103a" stroke-opacity="0.9"/><line x1="235.2" y1="301.2" x2="223.7" y2="271.5" stroke="#7a9ccc" stroke-opacity="0.9"/><line x1="259.7" y1="312.5" x2="325.6" y2="341.3" stroke="#e46a84" stroke-opacity="0.9"/><line x1="235.2" y1="301.2" x2="310.9" y2="258.9" stroke="#7a9ccc" stroke-opacity="0.9"/><line x1="259.7" y1="312.5" x2="275.6" y2="316.9" stroke="#c8103a" stroke-opacity="0.9"/><line x1="235.2" y1="301.2" x2="207.9" y2="294.8" stroke="#1d4f8c" stroke-opacity="0.9"/><line x1="235.2" y1="301.2" x2="257.9" y2="271.9" stroke="#7a9ccc" stroke-opacity="0.9"/><line x1="235.2" y1="301.2" x2="241.6" y2="261.4" stroke="#7a9ccc" stroke-opacity="0.9"/><line x1="259.7" y1="312.5" x2="239.2" y2="325.9" stroke="#c8103a" stroke-opacity="0.9"/><line x1="259.7" y1="312.5" x2="282.1" y2="319.4" stroke="#c8103a" stroke-opacity="0.9"/><line x1="259.7" y1="312.5" x2="262.0" y2="257.7" stroke="#c8103a" stroke-opacity="0.9"/><line x1="259.7" y1="312.5" x2="317.6" y2="361.5" stroke="#e46a84" stroke-opacity="0.9"/><line x1="259.7" y1="312.5" x2="269.1" y2="267.2" stroke="#c8103a" stroke-opacity="0.9"/><line x1="235.2" y1="301.2" x2="224.5" y2="297.2" stroke="#1d4f8c" stroke-opacity="0.9"/><line x1="259.7" y1="312.5" x2="251.1" y2="280.9" stroke="#c8103a" stroke-opacity="0.9"/><line x1="235.2" y1="301.2" x2="210.5" y2="355.3" stroke="#1d4f8c" stroke-opacity="0.9"/><line x1="235.2" y1="301.2" x2="243.0" y2="263.9" stroke="#1d4f8c" stroke-opacity="0.9"/><line x1="259.7" y1="312.5" x2="271.1" y2="281.9" stroke="#c8103a" stroke-opacity="0.9"/><line x1="259.7" y1="312.5" x2="310.6" y2="286.7" stroke="#c8103a" stroke-opacity="0.9"/><line x1="259.7" y1="312.5" x2="295.7" y2="374.0" stroke="#c8103a" stroke-opacity="0.9"/><line x1="235.2" y1="301.2" x2="204.4" y2="290.8" stroke="#7a9ccc" stroke-opacity="0.9"/><line x1="259.7" y1="312.5" x2="325.3" y2="315.0" stroke="#e46a84" stroke-opacity="0.9"/><line x1="235.2" y1="301.2" x2="219.4" y2="318.5" stroke="#7a9ccc" stroke-opacity="0.9"/><line x1="235.2" y1="301.2" x2="221.1" y2="272.1" stroke="#1d4f8c" stroke-opacity="0.9"/><line x1="259.7" y1="312.5" x2="307.0" y2="310.2" stroke="#e46a84" stroke-opacity="0.9"/><line x1="259.7" y1="312.5" x2="301.1" y2="375.1" stroke="#c8103a" stroke-opacity="0.9"/><line x1="259.7" y1="312.5" x2="305.3" y2="340.5" stroke="#c8103a" stroke-opacity="0.9"/><line x1="259.7" y1="312.5" x2="312.5" y2="352.6" stroke="#c8103a" stroke-opacity="0.9"/><line x1="235.2" y1="301.2" x2="243.9" y2="249.4" stroke="#1d4f8c" stroke-opacity="0.9"/><line x1="259.7" y1="312.5" x2="312.1" y2="315.7" stroke="#c8103a" stroke-opacity="0.9"/><line x1="235.2" y1="301.2" x2="221.8" y2="300.2" stroke="#7a9ccc" stroke-opacity="0.9"/><line x1="259.7" y1="312.5" x2="319.9" y2="286.4" stroke="#c8103a" stroke-opacity="0.9"/><line x1="235.2" y1="301.2" x2="207.1" y2="281.4" stroke="#1d4f8c" stroke-opacity="0.9"/><line x1="235.2" y1="301.2" x2="212.2" y2="298.1" stroke="#1d4f8c" stroke-opacity="0.9"/><line x1="235.2" y1="301.2" x2="208.0" y2="286.2" stroke="#1d4f8c" stroke-opacity="0.9"/><line x1="259.7" y1="312.5" x2="253.6" y2="262.4" stroke="#e46a84" stroke-opacity="0.9"/><line x1="259.7" y1="312.5" x2="310.6" y2="385.6" stroke="#c8103a" stroke-opacity="0.9"/><line x1="259.7" y1="312.5" x2="328.9" y2="365.8" stroke="#c8103a" stroke-opacity="0.9"/><line x1="259.7" y1="312.5" x2="306.5" y2="378.2" stroke="#c8103a" stroke-opacity="0.9"/><line x1="235.2" y1="301.2" x2="243.2" y2="262.1" stroke="#1d4f8c" stroke-opacity="0.9"/><line x1="235.2" y1="301.2" x2="223.1" y2="279.6" stroke="#7a9ccc" stroke-opacity="0.9"/><line x1="259.7" y1="312.5" x2="306.0" y2="347.5" stroke="#c8103a" stroke-opacity="0.9"/><line x1="235.2" y1="301.2" x2="224.2" y2="288.2" stroke="#1d4f8c" stroke-opacity="0.9"/><line x1="235.2" y1="301.2" x2="225.1" y2="299.3" stroke="#7a9ccc" stroke-opacity="0.9"/><line x1="259.7" y1="312.5" x2="239.8" y2="351.2" stroke="#c8103a" stroke-opacity="0.9"/><line x1="259.7" y1="312.5" x2="251.2" y2="336.3" stroke="#c8103a" stroke-opacity="0.9"/><line x1="235.2" y1="301.2" x2="296.6" y2="287.3" stroke="#7a9ccc" stroke-opacity="0.9"/><line x1="235.2" y1="301.2" x2="233.9" y2="289.9" stroke="#1d4f8c" stroke-opacity="0.9"/><line x1="259.7" y1="312.5" x2="294.3" y2="277.6" stroke="#c8103a" stroke-opacity="0.9"/><line x1="259.7" y1="312.5" x2="241.5" y2="286.5" stroke="#c8103a" stroke-opacity="0.9"/><line x1="235.2" y1="301.2" x2="244.9" y2="289.9" stroke="#7a9ccc" stroke-opacity="0.9"/><line x1="235.2" y1="301.2" x2="212.9" y2="288.0" stroke="#1d4f8c" stroke-opacity="0.9"/><line x1="259.7" y1="312.5" x2="325.4" y2="290.2" stroke="#c8103a" stroke-opacity="0.9"/><line x1="235.2" y1="301.2" x2="295.8" y2="295.9" stroke="#7a9ccc" stroke-opacity="0.9"/><line x1="259.7" y1="312.5" x2="259.4" y2="313.1" stroke="#c8103a" stroke-opacity="0.9"/><line x1="259.7" y1="312.5" x2="274.0" y2="289.1" stroke="#c8103a" stroke-opacity="0.9"/><line x1="259.7" y1="312.5" x2="263.0" y2="321.4" stroke="#c8103a" stroke-opacity="0.9"/><line x1="259.7" y1="312.5" x2="298.4" y2="329.6" stroke="#c8103a" stroke-opacity="0.9"/><line x1="259.7" y1="312.5" x2="306.9" y2="362.3" stroke="#e46a84" stroke-opacity="0.9"/><line x1="259.7" y1="312.5" x2="303.0" y2="297.1" stroke="#c8103a" stroke-opacity="0.9"/><line x1="235.2" y1="301.2" x2="313.0" y2="275.9" stroke="#7a9ccc" stroke-opacity="0.9"/><line x1="259.7" y1="312.5" x2="272.4" y2="296.5" stroke="#e46a84" stroke-opacity="0.9"/><line x1="235.2" y1="301.2" x2="214.6" y2="309.2" stroke="#1d4f8c" stroke-opacity="0.9"/><line x1="235.2" y1="301.2" x2="201.0" y2="352.1" stroke="#1d4f8c" stroke-opacity="0.9"/><line x1="259.7" y1="312.5" x2="299.1" y2="311.5" stroke="#c8103a" stroke-opacity="0.9"/><line x1="235.2" y1="301.2" x2="241.7" y2="254.7" stroke="#1d4f8c" stroke-opacity="0.9"/><line x1="235.2" y1="301.2" x2="212.5" y2="302.8" stroke="#1d4f8c" stroke-opacity="0.9"/><line x1="259.7" y1="312.5" x2="321.9" y2="327.1" stroke="#c8103a" stroke-opacity="0.9"/></g><g><circle cx="312.2" cy="333.2" r="0.8" fill="#a8103a"/><circle cx="305.3" cy="340.5" r="0.8" fill="#a8103a"/><circle cx="322.4" cy="306.3" r="0.8" fill="#a8103a"/><circle cx="297.6" cy="311.9" r="0.8" fill="#a8103a"/><circle cx="312.6" cy="331.9" r="0.8" fill="#a8103a"/><circle cx="310.6" cy="286.7" r="0.8" fill="#a8103a"/><circle cx="320.9" cy="288.9" r="0.8" fill="#a8103a"/><circle cx="320.6" cy="295.5" r="0.8" fill="#a8103a"/><circle cx="305.7" cy="333.1" r="0.8" fill="#a8103a"/><circle cx="299.5" cy="294.1" r="0.8" fill="#a8103a"/><circle cx="311.5" cy="329.1" r="0.8" fill="#a8103a"/><circle cx="321.9" cy="327.1" r="0.8" fill="#a8103a"/><circle cx="325.3" cy="315.0" r="0.8" fill="#a8103a"/><circle cx="325.4" cy="290.2" r="0.8" fill="#a8103a"/><circle cx="302.1" cy="317.1" r="0.8" fill="#a8103a"/><circle cx="304.3" cy="329.5" r="0.8" fill="#a8103a"/><circle cx="315.4" cy="316.9" r="0.8" fill="#a8103a"/><circle cx="322.0" cy="319.2" r="0.8" fill="#a8103a"/><circle cx="305.0" cy="308.3" r="0.8" fill="#a8103a"/><circle cx="322.0" cy="339.9" r="0.8" fill="#a8103a"/><circle cx="301.7" cy="336.9" r="0.8" fill="#a8103a"/><circle cx="326.0" cy="317.0" r="0.8" fill="#a8103a"/><circle cx="313.3" cy="297.3" r="0.8" fill="#a8103a"/><circle cx="312.1" cy="315.7" r="0.8" fill="#a8103a"/><circle cx="314.4" cy="286.7" r="0.8" fill="#a8103a"/><circle cx="326.0" cy="316.5" r="0.8" fill="#a8103a"/><circle cx="307.8" cy="333.9" r="0.8" fill="#a8103a"/><circle cx="313.0" cy="315.0" r="0.8" fill="#a8103a"/><circle cx="317.1" cy="289.0" r="0.8" fill="#a8103a"/><circle cx="312.2" cy="310.2" r="0.8" fill="#a8103a"/><circle cx="325.6" cy="341.3" r="0.8" fill="#a8103a"/><circle cx="303.6" cy="313.9" r="0.8" fill="#a8103a"/><circle cx="299.1" cy="311.5" r="0.8" fill="#a8103a"/><circle cx="321.1" cy="339.9" r="0.8" fill="#a8103a"/><circle cx="310.2" cy="304.4" r="0.8" fill="#a8103a"/><circle cx="301.1" cy="322.7" r="0.8" fill="#a8103a"/><circle cx="324.6" cy="292.9" r="0.8" fill="#a8103a"/><circle cx="319.9" cy="286.4" r="0.8" fill="#a8103a"/><circle cx="301.2" cy="298.9" r="0.8" fill="#a8103a"/><circle cx="317.0" cy="304.6" r="0.8" fill="#a8103a"/><circle cx="306.4" cy="322.8" r="0.8" fill="#a8103a"/><circle cx="298.4" cy="329.6" r="0.8" fill="#a8103a"/><circle cx="298.9" cy="316.1" r="0.8" fill="#a8103a"/><circle cx="303.0" cy="297.1" r="0.8" fill="#a8103a"/><circle cx="312.0" cy="311.6" r="0.8" fill="#a8103a"/><circle cx="307.0" cy="310.2" r="0.8" fill="#a8103a"/><circle cx="282.1" cy="260.9" r="0.8" fill="#a8103a"/><circle cx="269.8" cy="278.4" r="0.8" fill="#a8103a"/><circle cx="286.3" cy="274.6" r="0.8" fill="#a8103a"/><circle cx="294.3" cy="277.6" r="0.8" fill="#a8103a"/><circle cx="294.6" cy="263.6" r="0.8" fill="#a8103a"/><circle cx="290.1" cy="285.0" r="0.8" fill="#a8103a"/><circle cx="296.3" cy="266.7" r="0.8" fill="#a8103a"/><circle cx="274.0" cy="289.1" r="0.8" fill="#a8103a"/><circle cx="270.3" cy="291.9" r="0.8" fill="#a8103a"/><circle cx="295.7" cy="260.0" r="0.8" fill="#a8103a"/><circle cx="271.1" cy="281.9" r="0.8" fill="#a8103a"/><circle cx="271.9" cy="258.6" r="0.8" fill="#a8103a"/><circle cx="293.6" cy="270.6" r="0.8" fill="#a8103a"/><circle cx="292.0" cy="259.7" r="0.8" fill="#a8103a"/><circle cx="277.3" cy="280.4" r="0.8" fill="#a8103a"/><circle cx="262.7" cy="262.4" r="0.8" fill="#a8103a"/><circle cx="287.9" cy="288.7" r="0.8" fill="#a8103a"/><circle cx="298.8" cy="259.3" r="0.8" fill="#a8103a"/><circle cx="281.2" cy="283.1" r="0.8" fill="#a8103a"/><circle cx="281.1" cy="280.4" r="0.8" fill="#a8103a"/><circle cx="244.5" cy="260.1" r="0.8" fill="#a8103a"/><circle cx="242.5" cy="259.1" r="0.8" fill="#a8103a"/><circle cx="253.2" cy="273.4" r="0.8" fill="#a8103a"/><circle cx="253.6" cy="262.4" r="0.8" fill="#a8103a"/><circle cx="244.4" cy="264.1" r="0.8" fill="#a8103a"/><circle cx="260.2" cy="287.7" r="0.8" fill="#a8103a"/><circle cx="262.2" cy="260.9" r="0.8" fill="#a8103a"/><circle cx="241.5" cy="286.5" r="0.8" fill="#a8103a"/><circle cx="251.1" cy="280.9" r="0.8" fill="#a8103a"/><circle cx="247.8" cy="272.0" r="0.8" fill="#a8103a"/><circle cx="252.4" cy="270.9" r="0.8" fill="#a8103a"/><circle cx="254.4" cy="258.4" r="0.8" fill="#a8103a"/><circle cx="256.8" cy="283.3" r="0.8" fill="#a8103a"/><circle cx="249.9" cy="258.9" r="0.8" fill="#a8103a"/><circle cx="265.0" cy="257.7" r="0.8" fill="#a8103a"/><circle cx="250.3" cy="252.0" r="0.8" fill="#a8103a"/><circle cx="258.8" cy="248.4" r="0.8" fill="#a8103a"/><circle cx="269.1" cy="267.2" r="0.8" fill="#a8103a"/><circle cx="264.0" cy="268.7" r="0.8" fill="#a8103a"/><circle cx="262.0" cy="257.7" r="0.8" fill="#a8103a"/><circle cx="261.2" cy="260.1" r="0.8" fill="#a8103a"/><circle cx="271.5" cy="267.3" r="0.8" fill="#a8103a"/><circle cx="252.0" cy="269.9" r="0.8" fill="#a8103a"/><circle cx="229.8" cy="356.9" r="0.8" fill="#a8103a"/><circle cx="232.6" cy="341.6" r="0.8" fill="#a8103a"/><circle cx="235.9" cy="361.1" r="0.8" fill="#a8103a"/><circle cx="227.8" cy="356.5" r="0.8" fill="#a8103a"/><circle cx="230.6" cy="341.6" r="0.8" fill="#a8103a"/><circle cx="228.9" cy="327.9" r="0.8" fill="#a8103a"/><circle cx="213.7" cy="344.2" r="0.8" fill="#a8103a"/><circle cx="200.4" cy="339.6" r="0.8" fill="#a8103a"/><circle cx="225.5" cy="350.6" r="0.8" fill="#a8103a"/><circle cx="209.3" cy="363.7" r="0.8" fill="#a8103a"/><circle cx="226.6" cy="338.9" r="0.8" fill="#a8103a"/><circle cx="226.4" cy="348.4" r="0.8" fill="#a8103a"/><circle cx="221.3" cy="341.0" r="0.8" fill="#a8103a"/><circle cx="240.0" cy="351.3" r="0.8" fill="#a8103a"/><circle cx="228.1" cy="356.2" r="0.8" fill="#a8103a"/><circle cx="239.2" cy="325.9" r="0.8" fill="#a8103a"/><circle cx="224.6" cy="355.3" r="0.8" fill="#a8103a"/><circle cx="210.3" cy="341.5" r="0.8" fill="#a8103a"/><circle cx="202.0" cy="333.0" r="0.8" fill="#a8103a"/><circle cx="215.0" cy="329.0" r="0.8" fill="#a8103a"/><circle cx="210.0" cy="362.1" r="0.8" fill="#a8103a"/><circle cx="222.0" cy="345.8" r="0.8" fill="#a8103a"/><circle cx="238.7" cy="348.3" r="0.8" fill="#a8103a"/><circle cx="239.8" cy="351.2" r="0.8" fill="#a8103a"/><circle cx="232.4" cy="328.1" r="0.8" fill="#a8103a"/><circle cx="223.9" cy="356.1" r="0.8" fill="#a8103a"/><circle cx="240.4" cy="363.8" r="0.8" fill="#a8103a"/><circle cx="246.6" cy="349.6" r="0.8" fill="#a8103a"/><circle cx="247.1" cy="350.4" r="0.8" fill="#a8103a"/><circle cx="271.0" cy="336.8" r="0.8" fill="#a8103a"/><circle cx="289.0" cy="348.0" r="0.8" fill="#a8103a"/><circle cx="266.4" cy="353.5" r="0.8" fill="#a8103a"/><circle cx="257.7" cy="343.9" r="0.8" fill="#a8103a"/><circle cx="273.4" cy="352.4" r="0.8" fill="#a8103a"/><circle cx="253.3" cy="357.2" r="0.8" fill="#a8103a"/><circle cx="254.0" cy="335.4" r="0.8" fill="#a8103a"/><circle cx="251.2" cy="336.3" r="0.8" fill="#a8103a"/><circle cx="246.5" cy="358.4" r="0.8" fill="#a8103a"/><circle cx="259.1" cy="362.8" r="0.8" fill="#a8103a"/><circle cx="278.4" cy="336.6" r="0.8" fill="#a8103a"/><circle cx="291.4" cy="364.3" r="0.8" fill="#a8103a"/><circle cx="242.0" cy="363.1" r="0.8" fill="#a8103a"/><circle cx="261.2" cy="349.8" r="0.8" fill="#a8103a"/><circle cx="290.6" cy="342.6" r="0.8" fill="#a8103a"/><circle cx="266.3" cy="364.1" r="0.8" fill="#a8103a"/><circle cx="277.0" cy="349.5" r="0.8" fill="#a8103a"/><circle cx="290.9" cy="360.3" r="0.8" fill="#a8103a"/><circle cx="270.6" cy="338.6" r="0.8" fill="#a8103a"/><circle cx="272.5" cy="312.1" r="0.8" fill="#a8103a"/><circle cx="250.6" cy="294.3" r="0.8" fill="#a8103a"/><circle cx="267.5" cy="297.5" r="0.8" fill="#a8103a"/><circle cx="263.0" cy="321.4" r="0.8" fill="#a8103a"/><circle cx="263.7" cy="303.5" r="0.8" fill="#a8103a"/><circle cx="270.3" cy="310.5" r="0.8" fill="#a8103a"/><circle cx="280.5" cy="315.4" r="0.8" fill="#a8103a"/><circle cx="291.9" cy="333.9" r="0.8" fill="#a8103a"/><circle cx="278.2" cy="302.5" r="0.8" fill="#a8103a"/><circle cx="245.9" cy="331.3" r="0.8" fill="#a8103a"/><circle cx="280.8" cy="319.5" r="0.8" fill="#a8103a"/><circle cx="258.7" cy="303.9" r="0.8" fill="#a8103a"/><circle cx="275.6" cy="316.9" r="0.8" fill="#a8103a"/><circle cx="270.8" cy="319.9" r="0.8" fill="#a8103a"/><circle cx="279.2" cy="300.4" r="0.8" fill="#a8103a"/><circle cx="252.9" cy="335.1" r="0.8" fill="#a8103a"/><circle cx="287.6" cy="330.7" r="0.8" fill="#a8103a"/><circle cx="242.1" cy="294.7" r="0.8" fill="#a8103a"/><circle cx="254.1" cy="310.7" r="0.8" fill="#a8103a"/><circle cx="272.4" cy="296.5" r="0.8" fill="#a8103a"/><circle cx="268.2" cy="295.2" r="0.8" fill="#a8103a"/><circle cx="244.5" cy="321.8" r="0.8" fill="#a8103a"/><circle cx="268.6" cy="319.8" r="0.8" fill="#a8103a"/><circle cx="259.4" cy="313.1" r="0.8" fill="#a8103a"/><circle cx="251.0" cy="307.1" r="0.8" fill="#a8103a"/><circle cx="278.7" cy="328.9" r="0.8" fill="#a8103a"/><circle cx="243.9" cy="297.3" r="0.8" fill="#a8103a"/><circle cx="282.1" cy="319.4" r="0.8" fill="#a8103a"/><circle cx="280.0" cy="301.4" r="0.8" fill="#a8103a"/><circle cx="262.1" cy="303.4" r="0.8" fill="#a8103a"/><circle cx="297.2" cy="370.0" r="0.8" fill="#a8103a"/><circle cx="315.3" cy="385.3" r="0.8" fill="#a8103a"/><circle cx="314.1" cy="364.6" r="0.8" fill="#a8103a"/><circle cx="310.6" cy="385.6" r="0.8" fill="#a8103a"/><circle cx="306.9" cy="362.3" r="0.8" fill="#a8103a"/><circle cx="328.9" cy="365.8" r="0.8" fill="#a8103a"/><circle cx="306.0" cy="347.5" r="0.8" fill="#a8103a"/><circle cx="306.4" cy="368.6" r="0.8" fill="#a8103a"/><circle cx="299.0" cy="365.6" r="0.8" fill="#a8103a"/><circle cx="292.1" cy="360.4" r="0.8" fill="#a8103a"/><circle cx="319.9" cy="364.4" r="0.8" fill="#a8103a"/><circle cx="312.5" cy="352.6" r="0.8" fill="#a8103a"/><circle cx="306.5" cy="378.2" r="0.8" fill="#a8103a"/><circle cx="304.1" cy="353.3" r="0.8" fill="#a8103a"/><circle cx="317.9" cy="370.0" r="0.8" fill="#a8103a"/><circle cx="301.7" cy="354.4" r="0.8" fill="#a8103a"/><circle cx="304.2" cy="374.2" r="0.8" fill="#a8103a"/><circle cx="304.9" cy="390.1" r="0.8" fill="#a8103a"/><circle cx="295.7" cy="374.0" r="0.8" fill="#a8103a"/><circle cx="296.1" cy="367.9" r="0.8" fill="#a8103a"/><circle cx="310.3" cy="360.6" r="0.8" fill="#a8103a"/><circle cx="303.4" cy="389.0" r="0.8" fill="#a8103a"/><circle cx="310.8" cy="358.0" r="0.8" fill="#a8103a"/><circle cx="308.2" cy="360.8" r="0.8" fill="#a8103a"/><circle cx="308.1" cy="362.1" r="0.8" fill="#a8103a"/><circle cx="317.6" cy="361.5" r="0.8" fill="#a8103a"/><circle cx="301.1" cy="375.1" r="0.8" fill="#a8103a"/><circle cx="300.3" cy="376.5" r="0.8" fill="#a8103a"/><circle cx="323.6" cy="365.6" r="0.8" fill="#a8103a"/><circle cx="293.6" cy="368.4" r="0.8" fill="#a8103a"/><circle cx="319.9" cy="355.6" r="0.8" fill="#a8103a"/><circle cx="308.9" cy="370.5" r="0.8" fill="#a8103a"/><circle cx="241.6" cy="261.4" r="0.8" fill="#1a3f70"/><circle cx="255.7" cy="259.2" r="0.8" fill="#1a3f70"/><circle cx="243.2" cy="262.1" r="0.8" fill="#1a3f70"/><circle cx="233.5" cy="260.3" r="0.8" fill="#1a3f70"/><circle cx="246.9" cy="267.0" r="0.8" fill="#1a3f70"/><circle cx="230.8" cy="255.3" r="0.8" fill="#1a3f70"/><circle cx="230.7" cy="267.4" r="0.8" fill="#1a3f70"/><circle cx="248.8" cy="249.0" r="0.8" fill="#1a3f70"/><circle cx="257.5" cy="271.2" r="0.8" fill="#1a3f70"/><circle cx="247.6" cy="262.8" r="0.8" fill="#1a3f70"/><circle cx="232.7" cy="248.4" r="0.8" fill="#1a3f70"/><circle cx="243.9" cy="249.4" r="0.8" fill="#1a3f70"/><circle cx="233.7" cy="253.8" r="0.8" fill="#1a3f70"/><circle cx="228.9" cy="259.1" r="0.8" fill="#1a3f70"/><circle cx="241.2" cy="268.2" r="0.8" fill="#1a3f70"/><circle cx="243.6" cy="263.4" r="0.8" fill="#1a3f70"/><circle cx="243.0" cy="263.9" r="0.8" fill="#1a3f70"/><circle cx="241.7" cy="254.7" r="0.8" fill="#1a3f70"/><circle cx="257.9" cy="271.9" r="0.8" fill="#1a3f70"/><circle cx="253.2" cy="265.0" r="0.8" fill="#1a3f70"/><circle cx="237.5" cy="253.5" r="0.8" fill="#1a3f70"/><circle cx="236.7" cy="249.7" r="0.8" fill="#1a3f70"/><circle cx="251.0" cy="257.6" r="0.8" fill="#1a3f70"/><circle cx="253.4" cy="257.3" r="0.8" fill="#1a3f70"/><circle cx="256.7" cy="268.3" r="0.8" fill="#1a3f70"/><circle cx="228.0" cy="253.0" r="0.8" fill="#1a3f70"/><circle cx="255.3" cy="259.3" r="0.8" fill="#1a3f70"/><circle cx="257.4" cy="257.5" r="0.8" fill="#1a3f70"/><circle cx="230.2" cy="263.1" r="0.8" fill="#1a3f70"/><circle cx="251.4" cy="254.5" r="0.8" fill="#1a3f70"/><circle cx="230.6" cy="256.0" r="0.8" fill="#1a3f70"/><circle cx="256.9" cy="266.2" r="0.8" fill="#1a3f70"/><circle cx="221.2" cy="267.9" r="0.8" fill="#1a3f70"/><circle cx="220.7" cy="263.4" r="0.8" fill="#1a3f70"/><circle cx="239.5" cy="266.3" r="0.8" fill="#1a3f70"/><circle cx="233.1" cy="272.7" r="0.8" fill="#1a3f70"/><circle cx="223.1" cy="279.6" r="0.8" fill="#1a3f70"/><circle cx="221.5" cy="277.4" r="0.8" fill="#1a3f70"/><circle cx="221.1" cy="272.1" r="0.8" fill="#1a3f70"/><circle cx="223.7" cy="268.5" r="0.8" fill="#1a3f70"/><circle cx="244.2" cy="281.3" r="0.8" fill="#1a3f70"/><circle cx="226.2" cy="283.2" r="0.8" fill="#1a3f70"/><circle cx="223.7" cy="271.5" r="0.8" fill="#1a3f70"/><circle cx="241.1" cy="277.4" r="0.8" fill="#1a3f70"/><circle cx="220.7" cy="285.7" r="0.8" fill="#1a3f70"/><circle cx="223.8" cy="268.2" r="0.8" fill="#1a3f70"/><circle cx="238.9" cy="269.9" r="0.8" fill="#1a3f70"/><circle cx="226.0" cy="263.8" r="0.8" fill="#1a3f70"/><circle cx="206.0" cy="303.3" r="0.8" fill="#1a3f70"/><circle cx="209.3" cy="304.1" r="0.8" fill="#1a3f70"/><circle cx="212.2" cy="298.1" r="0.8" fill="#1a3f70"/><circle cx="225.1" cy="299.3" r="0.8" fill="#1a3f70"/><circle cx="216.6" cy="314.7" r="0.8" fill="#1a3f70"/><circle cx="208.0" cy="286.2" r="0.8" fill="#1a3f70"/><circle cx="224.0" cy="312.7" r="0.8" fill="#1a3f70"/><circle cx="209.5" cy="287.6" r="0.8" fill="#1a3f70"/><circle cx="220.3" cy="317.6" r="0.8" fill="#1a3f70"/><circle cx="208.3" cy="318.0" r="0.8" fill="#1a3f70"/><circle cx="223.4" cy="304.1" r="0.8" fill="#1a3f70"/><circle cx="213.3" cy="284.2" r="0.8" fill="#1a3f70"/><circle cx="204.9" cy="318.5" r="0.8" fill="#1a3f70"/><circle cx="209.2" cy="308.2" r="0.8" fill="#1a3f70"/><circle cx="209.7" cy="312.9" r="0.8" fill="#1a3f70"/><circle cx="217.1" cy="291.7" r="0.8" fill="#1a3f70"/><circle cx="207.9" cy="308.8" r="0.8" fill="#1a3f70"/><circle cx="205.5" cy="289.1" r="0.8" fill="#1a3f70"/><circle cx="216.3" cy="314.1" r="0.8" fill="#1a3f70"/><circle cx="217.5" cy="291.2" r="0.8" fill="#1a3f70"/><circle cx="224.2" cy="288.2" r="0.8" fill="#1a3f70"/><circle cx="204.4" cy="290.8" r="0.8" fill="#1a3f70"/><circle cx="213.8" cy="282.4" r="0.8" fill="#1a3f70"/><circle cx="207.9" cy="294.8" r="0.8" fill="#1a3f70"/><circle cx="216.6" cy="285.3" r="0.8" fill="#1a3f70"/><circle cx="212.0" cy="315.6" r="0.8" fill="#1a3f70"/><circle cx="225.6" cy="306.3" r="0.8" fill="#1a3f70"/><circle cx="219.2" cy="303.4" r="0.8" fill="#1a3f70"/><circle cx="207.1" cy="281.4" r="0.8" fill="#1a3f70"/><circle cx="204.4" cy="316.4" r="0.8" fill="#1a3f70"/><circle cx="219.4" cy="318.5" r="0.8" fill="#1a3f70"/><circle cx="204.5" cy="305.4" r="0.8" fill="#1a3f70"/><circle cx="214.6" cy="309.2" r="0.8" fill="#1a3f70"/><circle cx="211.0" cy="320.0" r="0.8" fill="#1a3f70"/><circle cx="205.7" cy="301.8" r="0.8" fill="#1a3f70"/><circle cx="220.2" cy="316.0" r="0.8" fill="#1a3f70"/><circle cx="223.6" cy="357.2" r="0.8" fill="#1a3f70"/><circle cx="225.4" cy="367.8" r="0.8" fill="#1a3f70"/><circle cx="211.3" cy="356.3" r="0.8" fill="#1a3f70"/><circle cx="228.8" cy="365.6" r="0.8" fill="#1a3f70"/><circle cx="213.3" cy="361.5" r="0.8" fill="#1a3f70"/><circle cx="227.6" cy="350.6" r="0.8" fill="#1a3f70"/><circle cx="220.0" cy="341.1" r="0.8" fill="#1a3f70"/><circle cx="218.6" cy="352.4" r="0.8" fill="#1a3f70"/><circle cx="202.6" cy="354.0" r="0.8" fill="#1a3f70"/><circle cx="231.8" cy="366.0" r="0.8" fill="#1a3f70"/><circle cx="223.3" cy="341.4" r="0.8" fill="#1a3f70"/><circle cx="223.5" cy="351.0" r="0.8" fill="#1a3f70"/><circle cx="214.1" cy="363.9" r="0.8" fill="#1a3f70"/><circle cx="202.7" cy="359.5" r="0.8" fill="#1a3f70"/><circle cx="201.0" cy="352.1" r="0.8" fill="#1a3f70"/><circle cx="215.4" cy="333.5" r="0.8" fill="#1a3f70"/><circle cx="222.3" cy="346.9" r="0.8" fill="#1a3f70"/><circle cx="219.7" cy="368.0" r="0.8" fill="#1a3f70"/><circle cx="208.2" cy="322.6" r="0.8" fill="#1a3f70"/><circle cx="209.6" cy="355.9" r="0.8" fill="#1a3f70"/><circle cx="206.5" cy="330.5" r="0.8" fill="#1a3f70"/><circle cx="229.0" cy="355.0" r="0.8" fill="#1a3f70"/><circle cx="214.1" cy="366.6" r="0.8" fill="#1a3f70"/><circle cx="210.5" cy="355.3" r="0.8" fill="#1a3f70"/><circle cx="206.4" cy="343.5" r="0.8" fill="#1a3f70"/><circle cx="225.8" cy="367.7" r="0.8" fill="#1a3f70"/><circle cx="252.5" cy="298.9" r="0.8" fill="#1a3f70"/><circle cx="238.8" cy="295.9" r="0.8" fill="#1a3f70"/><circle cx="218.3" cy="303.8" r="0.8" fill="#1a3f70"/><circle cx="250.5" cy="319.3" r="0.8" fill="#1a3f70"/><circle cx="244.7" cy="323.8" r="0.8" fill="#1a3f70"/><circle cx="224.7" cy="289.4" r="0.8" fill="#1a3f70"/><circle cx="232.7" cy="294.1" r="0.8" fill="#1a3f70"/><circle cx="221.8" cy="300.2" r="0.8" fill="#1a3f70"/><circle cx="240.8" cy="303.7" r="0.8" fill="#1a3f70"/><circle cx="226.5" cy="318.9" r="0.8" fill="#1a3f70"/><circle cx="257.2" cy="301.9" r="0.8" fill="#1a3f70"/><circle cx="215.4" cy="283.4" r="0.8" fill="#1a3f70"/><circle cx="252.2" cy="283.8" r="0.8" fill="#1a3f70"/><circle cx="244.6" cy="307.1" r="0.8" fill="#1a3f70"/><circle cx="226.2" cy="316.8" r="0.8" fill="#1a3f70"/><circle cx="212.9" cy="288.0" r="0.8" fill="#1a3f70"/><circle cx="232.9" cy="283.1" r="0.8" fill="#1a3f70"/><circle cx="250.2" cy="292.4" r="0.8" fill="#1a3f70"/><circle cx="218.5" cy="284.1" r="0.8" fill="#1a3f70"/><circle cx="240.9" cy="301.6" r="0.8" fill="#1a3f70"/><circle cx="241.0" cy="310.8" r="0.8" fill="#1a3f70"/><circle cx="249.1" cy="324.2" r="0.8" fill="#1a3f70"/><circle cx="243.5" cy="290.8" r="0.8" fill="#1a3f70"/><circle cx="233.9" cy="289.9" r="0.8" fill="#1a3f70"/><circle cx="212.5" cy="302.8" r="0.8" fill="#1a3f70"/><circle cx="244.9" cy="289.9" r="0.8" fill="#1a3f70"/><circle cx="224.5" cy="297.2" r="0.8" fill="#1a3f70"/><circle cx="244.1" cy="304.9" r="0.8" fill="#1a3f70"/><circle cx="286.0" cy="266.0" r="0.8" fill="#1a3f70"/><circle cx="301.7" cy="289.8" r="0.8" fill="#1a3f70"/><circle cx="313.8" cy="280.8" r="0.8" fill="#1a3f70"/><circle cx="314.0" cy="385.0" r="0.8" fill="#1a3f70"/><circle cx="308.6" cy="379.2" r="0.8" fill="#1a3f70"/><circle cx="295.0" cy="275.0" r="0.8" fill="#1a3f70"/><circle cx="290.0" cy="300.0" r="0.8" fill="#1a3f70"/><circle cx="295.2" cy="289.0" r="0.8" fill="#1a3f70"/><circle cx="283.2" cy="290.6" r="0.8" fill="#1a3f70"/><circle cx="310.9" cy="258.9" r="0.8" fill="#1a3f70"/><circle cx="312.4" cy="287.5" r="0.8" fill="#1a3f70"/><circle cx="269.0" cy="275.4" r="0.8" fill="#1a3f70"/><circle cx="295.8" cy="295.9" r="0.8" fill="#1a3f70"/><circle cx="282.3" cy="280.6" r="0.8" fill="#1a3f70"/><circle cx="309.5" cy="290.9" r="0.8" fill="#1a3f70"/><circle cx="313.0" cy="275.9" r="0.8" fill="#1a3f70"/><circle cx="297.2" cy="264.2" r="0.8" fill="#1a3f70"/><circle cx="301.0" cy="291.8" r="0.8" fill="#1a3f70"/><circle cx="296.6" cy="287.3" r="0.8" fill="#1a3f70"/><circle cx="273.5" cy="295.5" r="0.8" fill="#1a3f70"/><circle cx="314.9" cy="299.0" r="0.8" fill="#1a3f70"/></g>
<ellipse cx="259.4" cy="311.9" rx="79.3" ry="68.9" transform="rotate(16.7 259.4 311.9)" fill="none" stroke="#c8203c" stroke-width="1.05" stroke-dasharray="2.8 1.9"/>
<ellipse cx="232.8" cy="297.5" rx="75.4" ry="37.5" transform="rotate(-62 232.8 297.5)" fill="none" stroke="#1f4e7c" stroke-width="1.05" stroke-dasharray="2.8 1.9"/>
<rect x="173.50" y="221.30" width="172.00" height="175.50" fill="none" stroke="#333" stroke-width="1.1" />
<line x1="170.50" y1="224.38" x2="173.50" y2="224.38" stroke="#333" stroke-width="0.9" />
<text x="167.40" y="227.18" font-size="7.8" fill="#444" text-anchor="end" stroke="#444" stroke-width="0.12">0.4</text>
<line x1="170.50" y1="266.04" x2="173.50" y2="266.04" stroke="#333" stroke-width="0.9" />
<text x="167.40" y="268.84" font-size="7.8" fill="#444" text-anchor="end" stroke="#444" stroke-width="0.12">0.2</text>
<line x1="170.50" y1="307.70" x2="173.50" y2="307.70" stroke="#333" stroke-width="0.9" />
<text x="167.40" y="310.50" font-size="7.8" fill="#444" text-anchor="end" stroke="#444" stroke-width="0.12">0.0</text>
<line x1="170.50" y1="349.36" x2="173.50" y2="349.36" stroke="#333" stroke-width="0.9" />
<text x="167.40" y="352.16" font-size="7.8" fill="#444" text-anchor="end" stroke="#444" stroke-width="0.12">−0.2</text>
<line x1="170.50" y1="391.02" x2="173.50" y2="391.02" stroke="#333" stroke-width="0.9" />
<text x="167.40" y="393.82" font-size="7.8" fill="#444" text-anchor="end" stroke="#444" stroke-width="0.12">−0.4</text>
<line x1="207.17" y1="396.80" x2="207.17" y2="399.80" stroke="#333" stroke-width="0.9" />
<text x="207.17" y="409.80" font-size="7.8" fill="#444" text-anchor="middle" stroke="#444" stroke-width="0.12">−0.25</text>
<line x1="248.90" y1="396.80" x2="248.90" y2="399.80" stroke="#333" stroke-width="0.9" />
<text x="248.90" y="409.80" font-size="7.8" fill="#444" text-anchor="middle" stroke="#444" stroke-width="0.12">0.00</text>
<line x1="290.63" y1="396.80" x2="290.63" y2="399.80" stroke="#333" stroke-width="0.9" />
<text x="290.63" y="409.80" font-size="7.8" fill="#444" text-anchor="middle" stroke="#444" stroke-width="0.12">0.25</text>
<line x1="332.36" y1="396.80" x2="332.36" y2="399.80" stroke="#333" stroke-width="0.9" />
<text x="332.36" y="409.80" font-size="7.8" fill="#444" text-anchor="middle" stroke="#444" stroke-width="0.12">0.50</text>
<text x="237.60" y="423.00" font-size="9.6" fill="#444" textLength="43.80" lengthAdjust="spacingAndGlyphs" stroke="#444" stroke-width="0.12">PC1: 14.06%</text>
<text x="146.60" y="327.80" font-size="9.6" fill="#444" textLength="38.70" lengthAdjust="spacingAndGlyphs" transform="rotate(-90 146.60 327.80)" stroke="#444" stroke-width="0.12">PC2: 8.59%</text>
<text x="301.50" y="228.60" font-size="6.6" fill="#444" textLength="21.40" lengthAdjust="spacingAndGlyphs" stroke="#444" stroke-width="0.12">Group</text>
<line x1="301.30" y1="237.50" x2="316.30" y2="237.50" stroke="#1f4e8c" stroke-width="1.5" />
<circle cx="309" cy="237.5" r="2.1" fill="#173f72"/>
<text x="319.80" y="239.90" font-size="6.6" fill="#444" textLength="10.40" lengthAdjust="spacingAndGlyphs" stroke="#444" stroke-width="0.12">HC</text>
<line x1="301.30" y1="248.80" x2="316.30" y2="248.80" stroke="#c8103a" stroke-width="1.5" />
<circle cx="309" cy="248.8" r="2.1" fill="#a80a30"/>
<text x="319.80" y="251.20" font-size="6.6" fill="#444" textLength="22.70" lengthAdjust="spacingAndGlyphs" stroke="#444" stroke-width="0.12">DLBCL</text>
<text x="361.30" y="214.10" font-size="11.4" fill="#111" textLength="8.00" lengthAdjust="spacingAndGlyphs" font-weight="bold" stroke="#111" stroke-width="0.55">D</text>
<rect x="368.20" y="233.00" width="24.50" height="162.90" fill="#0a6a25" />
<rect x="368.20" y="309.10" width="24.50" height="86.80" fill="#0a4c66" />
<rect x="368.20" y="378.50" width="24.50" height="17.40" fill="#f07a00" />
<rect x="368.20" y="390.60" width="24.50" height="5.30" fill="#ea302a" />
<rect x="405.00" y="233.00" width="24.50" height="162.90" fill="#0a6a25" />
<rect x="405.00" y="303.60" width="24.50" height="92.30" fill="#0a4c66" />
<rect x="405.00" y="359.80" width="24.50" height="36.10" fill="#f07a00" />
<rect x="405.00" y="376.00" width="24.50" height="19.90" fill="#ea302a" />
<text x="375.40" y="405.80" font-size="7.6" fill="#333" textLength="10.20" lengthAdjust="spacingAndGlyphs" stroke="#333" stroke-width="0.12">HC</text>
<text x="405.50" y="405.80" font-size="7.6" fill="#333" textLength="23.60" lengthAdjust="spacingAndGlyphs" stroke="#333" stroke-width="0.12">DLBCL</text>
<rect x="439.00" y="233.95" width="5.70" height="5.70" fill="#0a6a25" />
<text x="448.30" y="239.30" font-size="7.0" fill="#333" textLength="34.80" lengthAdjust="spacingAndGlyphs" font-style="italic" stroke="#333" stroke-width="0.12">Firmicutes</text>
<rect x="439.00" y="245.30" width="5.70" height="5.70" fill="#0a4c66" />
<text x="448.30" y="250.65" font-size="7.0" fill="#333" textLength="46.00" lengthAdjust="spacingAndGlyphs" font-style="italic" stroke="#333" stroke-width="0.12">Bacteroidetes</text>
<rect x="439.00" y="256.65" width="5.70" height="5.70" fill="#f07a00" />
<text x="448.30" y="262.00" font-size="7.0" fill="#333" textLength="49.10" lengthAdjust="spacingAndGlyphs" font-style="italic" stroke="#333" stroke-width="0.12">Actinobacteria</text>
<rect x="439.00" y="268.00" width="5.70" height="5.70" fill="#ea302a" />
<text x="448.30" y="273.35" font-size="7.0" fill="#333" textLength="49.70" lengthAdjust="spacingAndGlyphs" font-style="italic" stroke="#333" stroke-width="0.12">Proteobacteria</text>
<rect x="439.00" y="279.35" width="5.70" height="5.70" fill="#a0a0a6" />
<text x="448.30" y="284.70" font-size="7.0" fill="#333" textLength="61.80" lengthAdjust="spacingAndGlyphs" stroke="#333" stroke-width="0.12">Others (under 1%)</text>
<text x="77.60" y="450.60" font-size="11.4" fill="#111" textLength="6.80" lengthAdjust="spacingAndGlyphs" font-weight="bold" stroke="#111" stroke-width="0.55">E</text>
<text x="123.20" y="498.00" font-size="9" fill="#222" textLength="64.50" lengthAdjust="spacingAndGlyphs" font-style="italic" stroke="#222" stroke-width="0.12">Proteobacteria</text>
<line x1="116.30" y1="505.00" x2="116.30" y2="623.30" stroke="#222" stroke-width="1.1" />
<line x1="115.70" y1="622.80" x2="193.10" y2="622.80" stroke="#222" stroke-width="1.1" />
<line x1="113.30" y1="622.80" x2="116.30" y2="622.80" stroke="#222" stroke-width="0.9" />
<text x="111.20" y="625.90" font-size="8.6" fill="#333" text-anchor="end" stroke="#333" stroke-width="0.12">0</text>
<line x1="113.30" y1="593.60" x2="116.30" y2="593.60" stroke="#222" stroke-width="0.9" />
<text x="111.20" y="596.70" font-size="8.6" fill="#333" text-anchor="end" stroke="#333" stroke-width="0.12">10</text>
<line x1="113.30" y1="564.40" x2="116.30" y2="564.40" stroke="#222" stroke-width="0.9" />
<text x="111.20" y="567.50" font-size="8.6" fill="#333" text-anchor="end" stroke="#333" stroke-width="0.12">20</text>
<line x1="113.30" y1="535.20" x2="116.30" y2="535.20" stroke="#222" stroke-width="0.9" />
<text x="111.20" y="538.30" font-size="8.6" fill="#333" text-anchor="end" stroke="#333" stroke-width="0.12">30</text>
<line x1="113.30" y1="506.00" x2="116.30" y2="506.00" stroke="#222" stroke-width="0.9" />
<text x="111.20" y="509.10" font-size="8.6" fill="#333" text-anchor="end" stroke="#333" stroke-width="0.12">40</text>
<line x1="138.20" y1="622.80" x2="138.20" y2="625.80" stroke="#222" stroke-width="0.9" />
<line x1="171.00" y1="622.80" x2="171.00" y2="625.80" stroke="#222" stroke-width="0.9" />
<rect x="128.00" y="612.40" width="20.50" height="10.40" fill="#154b86" />
<rect x="160.30" y="589.30" width="20.80" height="33.50" fill="#c8062a" />
<line x1="138.20" y1="612.40" x2="138.20" y2="592.30" stroke="#333" stroke-width="0.9" />
<line x1="133.00" y1="592.30" x2="143.50" y2="592.30" stroke="#333" stroke-width="1" />
<line x1="171.00" y1="589.30" x2="171.00" y2="543.40" stroke="#333" stroke-width="0.9" />
<line x1="165.90" y1="543.40" x2="176.50" y2="543.40" stroke="#333" stroke-width="1" />
<path d="M141.7,522.7 L141.7,517.4 L172.3,517.4 L172.3,522.7" fill="none" stroke="#333" stroke-width="0.9" />
<text x="156.80" y="518.00" font-size="9" fill="#333" text-anchor="middle" stroke="#333" stroke-width="0.12">***</text>
<text x="133.00" y="635.40" font-size="8.6" fill="#333" textLength="10.40" lengthAdjust="spacingAndGlyphs" stroke="#333" stroke-width="0.12">HC</text>
<text x="159.40" y="635.40" font-size="8.6" fill="#333" textLength="23.50" lengthAdjust="spacingAndGlyphs" stroke="#333" stroke-width="0.12">DLBCL</text>
<text x="97.60" y="603.00" font-size="10.2" fill="#333" textLength="79.80" lengthAdjust="spacingAndGlyphs" transform="rotate(-90 97.60 603.00)" stroke="#333" stroke-width="0.12">Relative abundance (%)</text>
<text x="208.60" y="450.00" font-size="11.4" fill="#111" textLength="6.60" lengthAdjust="spacingAndGlyphs" font-weight="bold" stroke="#111" stroke-width="0.55">F</text>
<rect x="219.20" y="456.90" width="28.60" height="188.90" fill="#076527" />
<rect x="219.20" y="493.10" width="28.60" height="152.70" fill="#0b9038" />
<rect x="219.20" y="531.50" width="28.60" height="114.30" fill="#0f9c46" />
<rect x="219.20" y="538.30" width="28.60" height="107.50" fill="#0e9462" />
<rect x="219.20" y="539.20" width="28.60" height="106.60" fill="#0a4a66" />
<rect x="219.20" y="580.00" width="28.60" height="65.80" fill="#0a7e98" />
<rect x="219.20" y="606.70" width="28.60" height="39.10" fill="#0f98b4" />
<rect x="219.20" y="615.20" width="28.60" height="30.60" fill="#2f88cc" />
<rect x="219.20" y="615.80" width="28.60" height="30.00" fill="#f05a0c" />
<rect x="219.20" y="626.90" width="28.60" height="18.90" fill="#f27d02" />
<rect x="219.20" y="631.20" width="28.60" height="14.60" fill="#e6300f" />
<rect x="219.20" y="637.00" width="28.60" height="8.80" fill="#e2687a" />
<rect x="219.20" y="637.70" width="28.60" height="8.10" fill="#a2a2a8" />
<rect x="259.60" y="456.90" width="28.60" height="188.90" fill="#076527" />
<rect x="259.60" y="488.20" width="28.60" height="157.60" fill="#0b9038" />
<rect x="259.60" y="521.30" width="28.60" height="124.50" fill="#0b6a44" />
<rect x="259.60" y="527.30" width="28.60" height="118.50" fill="#0f9c46" />
<rect x="259.60" y="533.60" width="28.60" height="112.20" fill="#0a4a66" />
<rect x="259.60" y="554.30" width="28.60" height="91.50" fill="#0a7e98" />
<rect x="259.60" y="583.90" width="28.60" height="61.90" fill="#0f98b4" />
<rect x="259.60" y="591.80" width="28.60" height="54.00" fill="#2f88cc" />
<rect x="259.60" y="595.80" width="28.60" height="50.00" fill="#f05a0c" />
<rect x="259.60" y="608.90" width="28.60" height="36.90" fill="#f27d02" />
<rect x="259.60" y="613.70" width="28.60" height="32.10" fill="#e6300f" />
<rect x="259.60" y="634.80" width="28.60" height="11.00" fill="#e2687a" />
<rect x="259.60" y="635.70" width="28.60" height="10.10" fill="#a2a2a8" />
<text x="228.10" y="656.20" font-size="7.8" fill="#333" textLength="11.00" lengthAdjust="spacingAndGlyphs" stroke="#333" stroke-width="0.12">HC</text>
<text x="261.90" y="656.20" font-size="7.8" fill="#333" textLength="24.30" lengthAdjust="spacingAndGlyphs" stroke="#333" stroke-width="0.12">DLBCL</text>
<rect x="303.70" y="457.75" width="5.70" height="5.70" fill="#076527" />
<text x="313.30" y="463.10" font-size="7.0" fill="#333" textLength="54.80" lengthAdjust="spacingAndGlyphs" font-style="italic" stroke="#333" stroke-width="0.12">Oscillospiraceae</text>
<rect x="303.70" y="469.08" width="5.70" height="5.70" fill="#0b9038" />
<text x="313.30" y="474.43" font-size="7.0" fill="#333" textLength="56.20" lengthAdjust="spacingAndGlyphs" font-style="italic" stroke="#333" stroke-width="0.12">Lachnospiraceae</text>
<rect x="303.70" y="480.41" width="5.70" height="5.70" fill="#14a044" />
<text x="313.30" y="485.76" font-size="7.0" fill="#333" textLength="60.20" lengthAdjust="spacingAndGlyphs" font-style="italic" stroke="#333" stroke-width="0.12">Streptococcaceae</text>
<rect x="303.70" y="491.74" width="5.70" height="5.70" fill="#0b6a44" />
<text x="313.30" y="497.09" font-size="7.0" fill="#333" textLength="55.20" lengthAdjust="spacingAndGlyphs" font-style="italic" stroke="#333" stroke-width="0.12">Lactobacillaceae</text>
<rect x="303.70" y="503.07" width="5.70" height="5.70" fill="#0e9462" />
<text x="313.30" y="508.42" font-size="7.0" fill="#333" textLength="49.70" lengthAdjust="spacingAndGlyphs" font-style="italic" stroke="#333" stroke-width="0.12">Veillonellaceae</text>
<rect x="303.70" y="514.40" width="5.70" height="5.70" fill="#0f9c46" />
<text x="313.30" y="519.75" font-size="7.0" fill="#333" textLength="56.70" lengthAdjust="spacingAndGlyphs" font-style="italic" stroke="#333" stroke-width="0.12">Enterococcaceae</text>
<rect x="303.70" y="525.73" width="5.70" height="5.70" fill="#0a4a66" />
<text x="313.30" y="531.08" font-size="7.0" fill="#333" textLength="48.70" lengthAdjust="spacingAndGlyphs" font-style="italic" stroke="#333" stroke-width="0.12">Prevotellaceae</text>
<rect x="303.70" y="537.06" width="5.70" height="5.70" fill="#0a7e98" />
<text x="313.30" y="542.41" font-size="7.0" fill="#333" textLength="51.70" lengthAdjust="spacingAndGlyphs" font-style="italic" stroke="#333" stroke-width="0.12">Bacteroidaceae</text>
<rect x="303.70" y="548.39" width="5.70" height="5.70" fill="#0f98b4" />
<text x="313.30" y="553.74" font-size="7.0" fill="#333" textLength="45.70" lengthAdjust="spacingAndGlyphs" font-style="italic" stroke="#333" stroke-width="0.12">Rikenellaceae</text>
<rect x="303.70" y="559.72" width="5.70" height="5.70" fill="#2f88cc" />
<text x="313.30" y="565.07" font-size="7.0" fill="#333" textLength="69.80" lengthAdjust="spacingAndGlyphs" font-style="italic" stroke="#333" stroke-width="0.12">Porphyromondaceae</text>
<rect x="303.70" y="571.05" width="5.70" height="5.70" fill="#f05a0c" />
<text x="313.30" y="576.40" font-size="7.0" fill="#333" textLength="62.30" lengthAdjust="spacingAndGlyphs" font-style="italic" stroke="#333" stroke-width="0.12">Bifidobacteriaceae</text>
<rect x="303.70" y="582.38" width="5.70" height="5.70" fill="#f27d02" />
<text x="313.30" y="587.73" font-size="7.0" fill="#333" textLength="61.10" lengthAdjust="spacingAndGlyphs" font-style="italic" stroke="#333" stroke-width="0.12">Coriobacteriaceae</text>
<rect x="303.70" y="593.71" width="5.70" height="5.70" fill="#e6300f" />
<text x="313.30" y="599.06" font-size="7.0" fill="#333" textLength="65.50" lengthAdjust="spacingAndGlyphs" font-style="italic" stroke="#333" stroke-width="0.12">Enterobacteriaceae</text>
<rect x="303.70" y="605.04" width="5.70" height="5.70" fill="#e2687a" />
<text x="313.30" y="610.39" font-size="7.0" fill="#333" textLength="47.30" lengthAdjust="spacingAndGlyphs" font-style="italic" stroke="#333" stroke-width="0.12">Sutterellaceae</text>
<rect x="303.70" y="616.37" width="5.70" height="5.70" fill="#a2a2a8" />
<text x="313.30" y="621.72" font-size="7.0" fill="#333" textLength="60.90" lengthAdjust="spacingAndGlyphs" stroke="#333" stroke-width="0.12">Others (under 1%)</text>
<path d="M385.8,460.6 L389.3,460.6 L389.3,517.3 L385.8,517.3" fill="none" stroke="#222" stroke-width="1" />
<path d="M385.8,528.3 L389.3,528.3 L389.3,562.6 L385.8,562.6" fill="none" stroke="#222" stroke-width="1" />
<path d="M385.8,574.0 L389.3,574.0 L389.3,585.4 L385.8,585.4" fill="none" stroke="#222" stroke-width="1" />
<path d="M385.8,596.6 L389.3,596.6 L389.3,607.8 L385.8,607.8" fill="none" stroke="#222" stroke-width="1" />
<text x="393.10" y="490.80" font-size="7.0" fill="#333" textLength="34.00" lengthAdjust="spacingAndGlyphs" font-style="italic" stroke="#333" stroke-width="0.12">Firmicutes</text>
<text x="393.10" y="547.60" font-size="7.0" fill="#333" textLength="44.50" lengthAdjust="spacingAndGlyphs" font-style="italic" stroke="#333" stroke-width="0.12">Bacteroidetes</text>
<text x="393.10" y="581.90" font-size="7.0" fill="#333" textLength="48.80" lengthAdjust="spacingAndGlyphs" font-style="italic" stroke="#333" stroke-width="0.12">Actinobacteria</text>
<text x="393.10" y="604.50" font-size="7.0" fill="#333" textLength="49.90" lengthAdjust="spacingAndGlyphs" font-style="italic" stroke="#333" stroke-width="0.12">Proteobacteria</text>
<rect x="0.5" y="0.5" width="519" height="664" fill="none" stroke="#5e5e5e" stroke-width="1"/>
</svg></body></html>
